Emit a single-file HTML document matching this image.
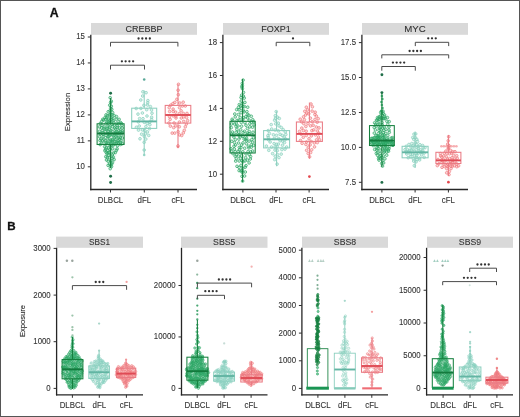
<!DOCTYPE html>
<html><head><meta charset="utf-8"><style>
html,body{margin:0;padding:0;background:#fff;}
body{width:520px;height:417px;overflow:hidden;}
svg{display:block;font-family:"Liberation Sans",sans-serif;will-change:transform;}
</style></head><body>
<svg width="520" height="417" viewBox="0 0 520 417">
<rect x="0" y="0" width="520" height="417" fill="#fff"/>
<text x="54.20" y="16.70" font-size="12.3" text-anchor="middle" fill="#111" font-weight="bold" stroke="#111" stroke-width="0.3" >A</text>
<text x="11.50" y="229.80" font-size="11.6" text-anchor="middle" fill="#111" font-weight="bold" stroke="#111" stroke-width="0.3" >B</text>
<rect x="91" y="23" width="106" height="11.799999999999997" fill="#d9d9d9"/>
<text x="144.00" y="31.60" font-size="9.6" text-anchor="middle" fill="#333333" font-weight="normal" stroke="#333333" stroke-width="0.1" textLength="37" lengthAdjust="spacingAndGlyphs">CREBBP</text>
<line x1="90.80" y1="34.80" x2="90.80" y2="190.15" stroke="#262626" stroke-width="1.3"/>
<line x1="90.15" y1="189.50" x2="197.00" y2="189.50" stroke="#262626" stroke-width="1.3"/>
<line x1="87.80" y1="37.00" x2="90.80" y2="37.00" stroke="#2f2f2f" stroke-width="1"/>
<text transform="translate(84.90,39.45) scale(0.89,1)" font-size="8.8" text-anchor="end" fill="#333333" font-weight="normal" stroke="#333333" stroke-width="0.1" >15</text>
<line x1="87.80" y1="62.95" x2="90.80" y2="62.95" stroke="#2f2f2f" stroke-width="1"/>
<text transform="translate(84.90,65.40) scale(0.89,1)" font-size="8.8" text-anchor="end" fill="#333333" font-weight="normal" stroke="#333333" stroke-width="0.1" >14</text>
<line x1="87.80" y1="88.90" x2="90.80" y2="88.90" stroke="#2f2f2f" stroke-width="1"/>
<text transform="translate(84.90,91.35) scale(0.89,1)" font-size="8.8" text-anchor="end" fill="#333333" font-weight="normal" stroke="#333333" stroke-width="0.1" >13</text>
<line x1="87.80" y1="114.90" x2="90.80" y2="114.90" stroke="#2f2f2f" stroke-width="1"/>
<text transform="translate(84.90,117.35) scale(0.89,1)" font-size="8.8" text-anchor="end" fill="#333333" font-weight="normal" stroke="#333333" stroke-width="0.1" >12</text>
<line x1="87.80" y1="140.85" x2="90.80" y2="140.85" stroke="#2f2f2f" stroke-width="1"/>
<text transform="translate(84.90,143.30) scale(0.89,1)" font-size="8.8" text-anchor="end" fill="#333333" font-weight="normal" stroke="#333333" stroke-width="0.1" >11</text>
<line x1="87.80" y1="166.80" x2="90.80" y2="166.80" stroke="#2f2f2f" stroke-width="1"/>
<text transform="translate(84.90,169.25) scale(0.89,1)" font-size="8.8" text-anchor="end" fill="#333333" font-weight="normal" stroke="#333333" stroke-width="0.1" >10</text>
<line x1="110.50" y1="189.50" x2="110.50" y2="192.50" stroke="#2f2f2f" stroke-width="1"/>
<text transform="translate(110.50,202.80) scale(0.92,1)" font-size="8.6" text-anchor="middle" fill="#333333" font-weight="normal" stroke="#333333" stroke-width="0.1" >DLBCL</text>
<line x1="144.30" y1="189.50" x2="144.30" y2="192.50" stroke="#2f2f2f" stroke-width="1"/>
<text transform="translate(144.30,202.80) scale(0.92,1)" font-size="8.6" text-anchor="middle" fill="#333333" font-weight="normal" stroke="#333333" stroke-width="0.1" >dFL</text>
<line x1="178.00" y1="189.50" x2="178.00" y2="192.50" stroke="#2f2f2f" stroke-width="1"/>
<text transform="translate(178.00,202.80) scale(0.92,1)" font-size="8.6" text-anchor="middle" fill="#333333" font-weight="normal" stroke="#333333" stroke-width="0.1" >cFL</text>
<text transform="translate(69.5,112) rotate(-90)" font-size="8.1" text-anchor="middle" fill="#333333" stroke="#333333" stroke-width="0.15" textLength="38.5" lengthAdjust="spacingAndGlyphs">Expression</text>
<polygon points="109.60,97.00 108.40,110.00 106.90,113.00 104.40,116.00 100.90,119.50 98.40,123.00 98.40,144.00 102.40,146.00 103.90,152.00 105.40,158.00 106.40,163.00 109.40,169.00 111.80,169.00 114.80,163.00 115.80,158.00 117.30,152.00 118.80,146.00 122.80,144.00 122.80,123.00 120.30,119.50 116.80,116.00 114.30,113.00 112.80,110.00 111.60,97.00" fill="#6cc89a" fill-opacity="0.1"/>
<g fill="#2aa664" fill-opacity="0.22" stroke="#2aa664" stroke-opacity="0.9" stroke-width="0.75"><circle cx="121.1" cy="135.1" r="1.35"/><circle cx="99.6" cy="136.7" r="1.35"/><circle cx="112.3" cy="162.5" r="1.35"/><circle cx="110.7" cy="108.4" r="1.35"/><circle cx="116.4" cy="119.4" r="1.35"/><circle cx="101.7" cy="121.5" r="1.35"/><circle cx="117.1" cy="148.9" r="1.35"/><circle cx="104.9" cy="150.7" r="1.35"/><circle cx="106.3" cy="129.3" r="1.35"/><circle cx="109.0" cy="141.1" r="1.35"/><circle cx="101.9" cy="143.0" r="1.35"/><circle cx="112.4" cy="126.7" r="1.35"/><circle cx="110.5" cy="114.3" r="1.35"/><circle cx="108.3" cy="121.3" r="1.35"/><circle cx="115.1" cy="139.9" r="1.35"/><circle cx="110.6" cy="102.6" r="1.35"/><circle cx="110.2" cy="168.7" r="1.35"/><circle cx="113.4" cy="153.0" r="1.35"/><circle cx="113.2" cy="135.9" r="1.35"/><circle cx="102.0" cy="125.2" r="1.35"/><circle cx="106.5" cy="160.0" r="1.35"/><circle cx="113.6" cy="144.9" r="1.35"/><circle cx="99.4" cy="126.9" r="1.35"/><circle cx="119.4" cy="127.8" r="1.35"/><circle cx="105.0" cy="117.5" r="1.35"/><circle cx="121.0" cy="140.8" r="1.35"/><circle cx="112.4" cy="131.4" r="1.35"/><circle cx="108.1" cy="165.4" r="1.35"/><circle cx="100.0" cy="140.5" r="1.35"/><circle cx="113.2" cy="120.9" r="1.35"/><circle cx="106.0" cy="135.3" r="1.35"/><circle cx="112.1" cy="158.5" r="1.35"/><circle cx="118.4" cy="142.7" r="1.35"/><circle cx="110.1" cy="149.5" r="1.35"/><circle cx="105.4" cy="140.8" r="1.35"/><circle cx="107.5" cy="115.7" r="1.35"/><circle cx="117.6" cy="133.5" r="1.35"/><circle cx="107.1" cy="153.7" r="1.35"/><circle cx="120.4" cy="131.4" r="1.35"/><circle cx="110.2" cy="97.7" r="1.35"/><circle cx="109.6" cy="129.4" r="1.35"/><circle cx="117.2" cy="125.7" r="1.35"/><circle cx="99.5" cy="131.3" r="1.35"/><circle cx="106.4" cy="143.8" r="1.35"/><circle cx="109.1" cy="136.1" r="1.35"/><circle cx="114.1" cy="159.6" r="1.35"/><circle cx="113.1" cy="157.0" r="1.35"/><circle cx="114.1" cy="115.5" r="1.35"/><circle cx="110.2" cy="144.2" r="1.35"/><circle cx="108.6" cy="147.7" r="1.35"/><circle cx="103.1" cy="134.5" r="1.35"/><circle cx="120.1" cy="137.3" r="1.35"/><circle cx="109.8" cy="152.6" r="1.35"/><circle cx="110.5" cy="122.7" r="1.35"/><circle cx="111.0" cy="117.5" r="1.35"/><circle cx="118.8" cy="123.4" r="1.35"/><circle cx="105.8" cy="123.8" r="1.35"/><circle cx="105.4" cy="131.7" r="1.35"/><circle cx="117.0" cy="123.1" r="1.35"/><circle cx="122.1" cy="128.0" r="1.35"/><circle cx="108.0" cy="126.1" r="1.35"/><circle cx="116.6" cy="143.6" r="1.35"/><circle cx="101.5" cy="127.9" r="1.35"/><circle cx="114.5" cy="125.0" r="1.35"/><circle cx="119.1" cy="119.3" r="1.35"/><circle cx="105.8" cy="156.7" r="1.35"/><circle cx="104.7" cy="146.6" r="1.35"/><circle cx="112.6" cy="112.6" r="1.35"/><circle cx="100.2" cy="134.0" r="1.35"/><circle cx="103.9" cy="139.1" r="1.35"/><circle cx="117.6" cy="145.7" r="1.35"/><circle cx="115.5" cy="129.1" r="1.35"/><circle cx="115.0" cy="133.4" r="1.35"/><circle cx="122.3" cy="138.0" r="1.35"/><circle cx="116.3" cy="150.5" r="1.35"/><circle cx="102.4" cy="130.7" r="1.35"/><circle cx="110.7" cy="165.4" r="1.35"/><circle cx="110.9" cy="139.5" r="1.35"/><circle cx="122.0" cy="132.8" r="1.35"/><circle cx="105.6" cy="149.3" r="1.35"/><circle cx="107.8" cy="150.5" r="1.35"/><circle cx="108.2" cy="161.2" r="1.35"/><circle cx="120.4" cy="122.5" r="1.35"/><circle cx="104.1" cy="128.8" r="1.35"/><circle cx="109.8" cy="133.1" r="1.35"/><circle cx="108.3" cy="123.3" r="1.35"/><circle cx="108.4" cy="152.6" r="1.35"/><circle cx="112.3" cy="155.0" r="1.35"/><circle cx="109.2" cy="157.7" r="1.35"/><circle cx="112.7" cy="148.8" r="1.35"/><circle cx="115.3" cy="152.5" r="1.35"/><circle cx="116.1" cy="136.9" r="1.35"/><circle cx="122.3" cy="143.6" r="1.35"/><circle cx="116.8" cy="131.7" r="1.35"/><circle cx="121.8" cy="125.3" r="1.35"/><circle cx="119.6" cy="133.2" r="1.35"/><circle cx="111.9" cy="145.7" r="1.35"/><circle cx="110.1" cy="110.9" r="1.35"/><circle cx="102.8" cy="119.3" r="1.35"/><circle cx="114.2" cy="137.9" r="1.35"/><circle cx="106.3" cy="152.4" r="1.35"/><circle cx="112.0" cy="114.9" r="1.35"/><circle cx="104.2" cy="127.1" r="1.35"/><circle cx="112.5" cy="134.6" r="1.35"/><circle cx="118.2" cy="140.5" r="1.35"/><circle cx="120.6" cy="142.6" r="1.35"/><circle cx="109.7" cy="105.2" r="1.35"/><circle cx="109.7" cy="127.0" r="1.35"/><circle cx="107.2" cy="128.4" r="1.35"/><circle cx="110.1" cy="146.1" r="1.35"/><circle cx="111.1" cy="140.8" r="1.35"/><circle cx="108.0" cy="136.9" r="1.35"/><circle cx="103.2" cy="136.8" r="1.35"/><circle cx="100.2" cy="144.6" r="1.35"/><circle cx="100.3" cy="123.5" r="1.35"/><circle cx="118.2" cy="137.9" r="1.35"/><circle cx="110.9" cy="130.5" r="1.35"/><circle cx="111.3" cy="106.2" r="1.35"/><circle cx="111.5" cy="119.1" r="1.35"/><circle cx="110.6" cy="160.9" r="1.35"/><circle cx="105.7" cy="119.3" r="1.35"/><circle cx="111.3" cy="101.2" r="1.35"/><circle cx="107.4" cy="138.7" r="1.35"/><circle cx="111.8" cy="124.3" r="1.35"/><circle cx="116.5" cy="116.6" r="1.35"/><circle cx="119.5" cy="139.2" r="1.35"/><circle cx="108.2" cy="111.7" r="1.35"/><circle cx="112.6" cy="139.9" r="1.35"/><circle cx="109.3" cy="115.0" r="1.35"/><circle cx="114.6" cy="128.1" r="1.35"/><circle cx="105.9" cy="142.4" r="1.35"/><circle cx="115.0" cy="144.0" r="1.35"/><circle cx="108.5" cy="119.1" r="1.35"/><circle cx="114.8" cy="141.5" r="1.35"/><circle cx="118.9" cy="130.6" r="1.35"/><circle cx="109.9" cy="120.7" r="1.35"/><circle cx="108.6" cy="155.1" r="1.35"/><circle cx="111.5" cy="143.1" r="1.35"/><circle cx="111.8" cy="109.4" r="1.35"/><circle cx="115.6" cy="132.1" r="1.35"/><circle cx="106.9" cy="122.2" r="1.35"/><circle cx="106.0" cy="114.9" r="1.35"/><circle cx="113.6" cy="122.9" r="1.35"/><circle cx="107.3" cy="157.6" r="1.35"/><circle cx="102.7" cy="132.8" r="1.35"/><circle cx="122.1" cy="131.0" r="1.35"/><circle cx="117.2" cy="127.4" r="1.35"/><circle cx="121.5" cy="123.5" r="1.35"/><circle cx="103.6" cy="120.1" r="1.35"/><circle cx="108.2" cy="131.5" r="1.35"/><circle cx="109.9" cy="134.9" r="1.35"/><circle cx="102.4" cy="140.9" r="1.35"/><circle cx="111.5" cy="166.6" r="1.35"/><circle cx="111.7" cy="163.8" r="1.35"/><circle cx="112.5" cy="142.0" r="1.35"/><circle cx="106.8" cy="117.9" r="1.35"/><circle cx="109.7" cy="164.1" r="1.35"/><circle cx="116.9" cy="135.1" r="1.35"/><circle cx="120.6" cy="144.5" r="1.35"/><circle cx="108.1" cy="143.1" r="1.35"/><circle cx="113.0" cy="118.8" r="1.35"/><circle cx="108.0" cy="133.3" r="1.35"/><circle cx="101.0" cy="139.0" r="1.35"/><circle cx="117.3" cy="142.0" r="1.35"/><circle cx="106.4" cy="147.7" r="1.35"/></g>
<g fill="#1f6e48" fill-opacity="1"><circle cx="110.6" cy="93.3" r="1.45"/><circle cx="110.6" cy="176.2" r="1.45"/><circle cx="110.6" cy="182.5" r="1.45"/></g>
<g stroke="#16803f" stroke-width="1.05" fill="none"><line x1="110.6" y1="98" x2="110.6" y2="123.8"/><line x1="110.6" y1="144.5" x2="110.6" y2="168"/><rect x="97.1" y="123.8" width="27.0" height="20.700000000000003"/><line x1="97.1" y1="133.5" x2="124.1" y2="133.5" stroke="#137a3d" stroke-width="1.9"/></g>
<g fill="#86cfbd" fill-opacity="0.3" stroke="#86cfbd" stroke-opacity="0.9" stroke-width="0.75"><circle cx="140.9" cy="108.4" r="1.35"/><circle cx="138.5" cy="130.1" r="1.35"/><circle cx="145.8" cy="139.1" r="1.35"/><circle cx="149.9" cy="124.7" r="1.35"/><circle cx="139.6" cy="118.6" r="1.35"/><circle cx="152.0" cy="113.2" r="1.35"/><circle cx="146.1" cy="92.7" r="1.35"/><circle cx="144.3" cy="122.3" r="1.35"/><circle cx="140.8" cy="100.0" r="1.35"/><circle cx="148.7" cy="135.4" r="1.35"/><circle cx="147.0" cy="116.0" r="1.35"/><circle cx="144.8" cy="130.6" r="1.35"/><circle cx="139.2" cy="126.0" r="1.35"/><circle cx="147.9" cy="100.6" r="1.35"/><circle cx="141.6" cy="134.2" r="1.35"/><circle cx="146.7" cy="109.7" r="1.35"/><circle cx="140.0" cy="138.8" r="1.35"/><circle cx="143.9" cy="105.3" r="1.35"/><circle cx="136.2" cy="108.5" r="1.35"/><circle cx="144.2" cy="142.3" r="1.35"/><circle cx="143.0" cy="118.7" r="1.35"/><circle cx="150.4" cy="106.6" r="1.35"/><circle cx="142.7" cy="96.0" r="1.35"/><circle cx="149.5" cy="128.6" r="1.35"/><circle cx="151.5" cy="110.0" r="1.35"/><circle cx="142.4" cy="113.0" r="1.35"/><circle cx="145.9" cy="126.6" r="1.35"/><circle cx="151.6" cy="117.2" r="1.35"/><circle cx="147.4" cy="131.9" r="1.35"/><circle cx="138.4" cy="121.9" r="1.35"/><circle cx="147.5" cy="105.0" r="1.35"/><circle cx="147.2" cy="123.4" r="1.35"/><circle cx="142.9" cy="91.8" r="1.35"/><circle cx="151.6" cy="119.5" r="1.35"/><circle cx="144.2" cy="150.0" r="1.35"/><circle cx="136.4" cy="127.3" r="1.35"/><circle cx="147.7" cy="102.8" r="1.35"/><circle cx="138.0" cy="114.1" r="1.35"/><circle cx="142.4" cy="129.9" r="1.35"/><circle cx="149.7" cy="122.1" r="1.35"/><circle cx="145.3" cy="133.8" r="1.35"/><circle cx="144.3" cy="136.3" r="1.35"/></g>
<g fill="#86cfbd" fill-opacity="0.8"><circle cx="144.2" cy="155.0" r="1.3"/></g>
<g fill="#5aa898" fill-opacity="1"><circle cx="144.2" cy="79.5" r="1.3"/></g>
<g stroke="#8ccfbf" stroke-width="1.05" fill="none"><line x1="144.2" y1="90.5" x2="144.2" y2="108.2"/><line x1="144.2" y1="128.4" x2="144.2" y2="155.4"/><rect x="131.7" y="108.2" width="25.0" height="20.200000000000003"/><line x1="131.7" y1="121.4" x2="156.7" y2="121.4" stroke="#62b5a3" stroke-width="1.9"/></g>
<g fill="#f07a7e" fill-opacity="0.3" stroke="#f07a7e" stroke-opacity="0.9" stroke-width="0.75"><circle cx="176.9" cy="99.3" r="1.35"/><circle cx="179.3" cy="126.7" r="1.35"/><circle cx="178.5" cy="84.3" r="1.35"/><circle cx="169.7" cy="111.5" r="1.35"/><circle cx="183.3" cy="113.4" r="1.35"/><circle cx="176.0" cy="118.0" r="1.35"/><circle cx="179.5" cy="134.9" r="1.35"/><circle cx="185.3" cy="106.0" r="1.35"/><circle cx="168.9" cy="123.0" r="1.35"/><circle cx="175.6" cy="112.1" r="1.35"/><circle cx="186.6" cy="117.5" r="1.35"/><circle cx="179.5" cy="107.7" r="1.35"/><circle cx="174.7" cy="133.1" r="1.35"/><circle cx="178.0" cy="145.9" r="1.35"/><circle cx="178.3" cy="94.7" r="1.35"/><circle cx="174.1" cy="123.0" r="1.35"/><circle cx="181.3" cy="118.0" r="1.35"/><circle cx="178.1" cy="90.2" r="1.35"/><circle cx="184.3" cy="130.3" r="1.35"/><circle cx="179.3" cy="113.7" r="1.35"/><circle cx="179.8" cy="103.0" r="1.35"/><circle cx="181.1" cy="110.8" r="1.35"/><circle cx="170.8" cy="105.1" r="1.35"/><circle cx="173.7" cy="127.6" r="1.35"/><circle cx="183.3" cy="132.9" r="1.35"/><circle cx="183.7" cy="121.4" r="1.35"/><circle cx="187.0" cy="113.4" r="1.35"/><circle cx="183.2" cy="102.2" r="1.35"/><circle cx="173.1" cy="109.1" r="1.35"/><circle cx="174.8" cy="102.4" r="1.35"/><circle cx="185.3" cy="126.8" r="1.35"/><circle cx="178.1" cy="131.7" r="1.35"/><circle cx="182.5" cy="106.0" r="1.35"/><circle cx="169.5" cy="116.7" r="1.35"/><circle cx="173.2" cy="111.5" r="1.35"/><circle cx="181.7" cy="135.5" r="1.35"/><circle cx="175.8" cy="125.9" r="1.35"/><circle cx="175.9" cy="116.1" r="1.35"/><circle cx="179.4" cy="122.1" r="1.35"/><circle cx="170.3" cy="126.1" r="1.35"/><circle cx="172.2" cy="133.1" r="1.35"/><circle cx="173.2" cy="115.9" r="1.35"/><circle cx="170.1" cy="119.4" r="1.35"/><circle cx="186.4" cy="124.0" r="1.35"/><circle cx="172.9" cy="103.6" r="1.35"/><circle cx="169.2" cy="107.7" r="1.35"/><circle cx="183.8" cy="116.9" r="1.35"/><circle cx="187.6" cy="120.7" r="1.35"/></g>
<g fill="#f07a7e" fill-opacity="0.8"><circle cx="178.0" cy="147.0" r="1.3"/></g>
<g stroke="#ea7b84" stroke-width="1.05" fill="none"><line x1="178.0" y1="84.2" x2="178.0" y2="105.4"/><line x1="178.0" y1="123.1" x2="178.0" y2="147.3"/><rect x="165.2" y="105.4" width="25.6" height="17.69999999999999"/><line x1="165.2" y1="115" x2="190.8" y2="115" stroke="#df4a55" stroke-width="1.9"/></g>
<path d="M110.5,46.5 V42.3 H177.9 V46.5" stroke="#4a4a4a" stroke-width="1" fill="none"/>
<g fill="#333"><circle cx="138.57" cy="38.50" r="1.15"/><circle cx="142.32" cy="38.50" r="1.15"/><circle cx="146.07" cy="38.50" r="1.15"/><circle cx="149.82" cy="38.50" r="1.15"/></g>
<path d="M110.5,69.5 V65.2 H144.5 V69.5" stroke="#4a4a4a" stroke-width="1" fill="none"/>
<g fill="#333"><circle cx="121.88" cy="61.30" r="1.15"/><circle cx="125.62" cy="61.30" r="1.15"/><circle cx="129.38" cy="61.30" r="1.15"/><circle cx="133.12" cy="61.30" r="1.15"/></g>
<rect x="223" y="23" width="106" height="11.799999999999997" fill="#d9d9d9"/>
<text x="276.00" y="31.60" font-size="9.6" text-anchor="middle" fill="#333333" font-weight="normal" stroke="#333333" stroke-width="0.1" textLength="29.5" lengthAdjust="spacingAndGlyphs">FOXP1</text>
<line x1="222.90" y1="34.80" x2="222.90" y2="190.15" stroke="#262626" stroke-width="1.3"/>
<line x1="222.25" y1="189.50" x2="329.00" y2="189.50" stroke="#262626" stroke-width="1.3"/>
<line x1="219.90" y1="42.60" x2="222.90" y2="42.60" stroke="#2f2f2f" stroke-width="1"/>
<text transform="translate(217.00,45.05) scale(0.89,1)" font-size="8.8" text-anchor="end" fill="#333333" font-weight="normal" stroke="#333333" stroke-width="0.1" >18</text>
<line x1="219.90" y1="75.50" x2="222.90" y2="75.50" stroke="#2f2f2f" stroke-width="1"/>
<text transform="translate(217.00,77.95) scale(0.89,1)" font-size="8.8" text-anchor="end" fill="#333333" font-weight="normal" stroke="#333333" stroke-width="0.1" >16</text>
<line x1="219.90" y1="108.40" x2="222.90" y2="108.40" stroke="#2f2f2f" stroke-width="1"/>
<text transform="translate(217.00,110.85) scale(0.89,1)" font-size="8.8" text-anchor="end" fill="#333333" font-weight="normal" stroke="#333333" stroke-width="0.1" >14</text>
<line x1="219.90" y1="141.30" x2="222.90" y2="141.30" stroke="#2f2f2f" stroke-width="1"/>
<text transform="translate(217.00,143.75) scale(0.89,1)" font-size="8.8" text-anchor="end" fill="#333333" font-weight="normal" stroke="#333333" stroke-width="0.1" >12</text>
<line x1="219.90" y1="174.20" x2="222.90" y2="174.20" stroke="#2f2f2f" stroke-width="1"/>
<text transform="translate(217.00,176.65) scale(0.89,1)" font-size="8.8" text-anchor="end" fill="#333333" font-weight="normal" stroke="#333333" stroke-width="0.1" >10</text>
<line x1="242.90" y1="189.50" x2="242.90" y2="192.50" stroke="#2f2f2f" stroke-width="1"/>
<text transform="translate(242.90,202.80) scale(0.92,1)" font-size="8.6" text-anchor="middle" fill="#333333" font-weight="normal" stroke="#333333" stroke-width="0.1" >DLBCL</text>
<line x1="276.00" y1="189.50" x2="276.00" y2="192.50" stroke="#2f2f2f" stroke-width="1"/>
<text transform="translate(276.00,202.80) scale(0.92,1)" font-size="8.6" text-anchor="middle" fill="#333333" font-weight="normal" stroke="#333333" stroke-width="0.1" >dFL</text>
<line x1="309.10" y1="189.50" x2="309.10" y2="192.50" stroke="#2f2f2f" stroke-width="1"/>
<text transform="translate(309.10,202.80) scale(0.92,1)" font-size="8.6" text-anchor="middle" fill="#333333" font-weight="normal" stroke="#333333" stroke-width="0.1" >cFL</text>
<g fill="#2aa664" fill-opacity="0.2" stroke="#2aa664" stroke-opacity="0.9" stroke-width="0.75"><circle cx="242.7" cy="168.2" r="1.35"/><circle cx="249.4" cy="131.6" r="1.35"/><circle cx="234.0" cy="146.2" r="1.35"/><circle cx="236.1" cy="126.6" r="1.35"/><circle cx="248.9" cy="147.9" r="1.35"/><circle cx="238.5" cy="156.1" r="1.35"/><circle cx="241.3" cy="108.2" r="1.35"/><circle cx="242.7" cy="119.6" r="1.35"/><circle cx="233.5" cy="134.7" r="1.35"/><circle cx="242.8" cy="151.8" r="1.35"/><circle cx="242.3" cy="83.4" r="1.35"/><circle cx="249.1" cy="162.9" r="1.35"/><circle cx="252.8" cy="119.8" r="1.35"/><circle cx="232.9" cy="153.6" r="1.35"/><circle cx="246.0" cy="125.2" r="1.35"/><circle cx="242.6" cy="181.1" r="1.35"/><circle cx="243.4" cy="96.1" r="1.35"/><circle cx="246.6" cy="138.3" r="1.35"/><circle cx="246.9" cy="111.6" r="1.35"/><circle cx="242.8" cy="161.8" r="1.35"/><circle cx="237.1" cy="120.4" r="1.35"/><circle cx="238.5" cy="114.5" r="1.35"/><circle cx="252.6" cy="151.0" r="1.35"/><circle cx="240.7" cy="129.8" r="1.35"/><circle cx="245.6" cy="157.7" r="1.35"/><circle cx="251.7" cy="134.7" r="1.35"/><circle cx="237.0" cy="166.3" r="1.35"/><circle cx="244.9" cy="122.6" r="1.35"/><circle cx="244.5" cy="106.6" r="1.35"/><circle cx="243.0" cy="136.3" r="1.35"/><circle cx="238.2" cy="151.3" r="1.35"/><circle cx="241.2" cy="101.0" r="1.35"/><circle cx="232.1" cy="119.3" r="1.35"/><circle cx="233.9" cy="137.1" r="1.35"/><circle cx="252.5" cy="127.2" r="1.35"/><circle cx="253.7" cy="145.3" r="1.35"/><circle cx="240.2" cy="117.4" r="1.35"/><circle cx="249.2" cy="120.2" r="1.35"/><circle cx="241.6" cy="145.0" r="1.35"/><circle cx="244.7" cy="148.2" r="1.35"/><circle cx="238.9" cy="139.1" r="1.35"/><circle cx="238.6" cy="143.0" r="1.35"/><circle cx="249.1" cy="141.1" r="1.35"/><circle cx="240.2" cy="137.0" r="1.35"/><circle cx="246.0" cy="165.6" r="1.35"/><circle cx="239.3" cy="104.6" r="1.35"/><circle cx="243.5" cy="92.4" r="1.35"/><circle cx="250.3" cy="159.0" r="1.35"/><circle cx="239.0" cy="109.8" r="1.35"/><circle cx="239.1" cy="170.6" r="1.35"/><circle cx="231.0" cy="148.8" r="1.35"/><circle cx="239.3" cy="147.4" r="1.35"/><circle cx="231.8" cy="141.3" r="1.35"/><circle cx="235.1" cy="156.1" r="1.35"/><circle cx="243.0" cy="142.9" r="1.35"/><circle cx="246.9" cy="134.9" r="1.35"/><circle cx="244.9" cy="102.4" r="1.35"/><circle cx="243.7" cy="117.8" r="1.35"/><circle cx="236.3" cy="158.7" r="1.35"/><circle cx="249.8" cy="123.8" r="1.35"/><circle cx="238.7" cy="132.1" r="1.35"/><circle cx="235.2" cy="151.7" r="1.35"/><circle cx="239.2" cy="161.0" r="1.35"/><circle cx="244.0" cy="111.9" r="1.35"/><circle cx="246.0" cy="153.9" r="1.35"/><circle cx="242.0" cy="176.3" r="1.35"/><circle cx="245.3" cy="172.0" r="1.35"/><circle cx="250.6" cy="156.5" r="1.35"/><circle cx="241.6" cy="126.2" r="1.35"/><circle cx="249.8" cy="126.9" r="1.35"/><circle cx="247.6" cy="117.9" r="1.35"/><circle cx="241.0" cy="165.3" r="1.35"/><circle cx="232.4" cy="132.0" r="1.35"/><circle cx="241.9" cy="86.9" r="1.35"/><circle cx="241.0" cy="97.5" r="1.35"/><circle cx="235.4" cy="139.6" r="1.35"/><circle cx="234.8" cy="114.0" r="1.35"/><circle cx="244.1" cy="139.1" r="1.35"/><circle cx="253.0" cy="132.2" r="1.35"/><circle cx="234.4" cy="149.1" r="1.35"/><circle cx="240.7" cy="153.0" r="1.35"/><circle cx="240.1" cy="134.5" r="1.35"/><circle cx="245.0" cy="160.9" r="1.35"/><circle cx="248.8" cy="115.2" r="1.35"/><circle cx="244.5" cy="131.3" r="1.35"/><circle cx="251.3" cy="116.3" r="1.35"/><circle cx="238.5" cy="107.3" r="1.35"/><circle cx="241.3" cy="122.4" r="1.35"/><circle cx="247.4" cy="128.5" r="1.35"/><circle cx="253.5" cy="121.7" r="1.35"/><circle cx="246.4" cy="140.8" r="1.35"/><circle cx="245.8" cy="116.7" r="1.35"/><circle cx="234.5" cy="142.5" r="1.35"/><circle cx="248.1" cy="151.5" r="1.35"/><circle cx="242.4" cy="88.7" r="1.35"/><circle cx="248.4" cy="146.3" r="1.35"/><circle cx="239.1" cy="167.4" r="1.35"/><circle cx="244.2" cy="98.1" r="1.35"/><circle cx="242.4" cy="172.5" r="1.35"/><circle cx="235.7" cy="161.1" r="1.35"/><circle cx="236.1" cy="132.3" r="1.35"/><circle cx="251.8" cy="139.6" r="1.35"/><circle cx="245.2" cy="167.2" r="1.35"/><circle cx="240.5" cy="158.3" r="1.35"/><circle cx="231.7" cy="134.2" r="1.35"/><circle cx="247.7" cy="107.2" r="1.35"/><circle cx="243.1" cy="80.1" r="1.35"/><circle cx="236.2" cy="123.1" r="1.35"/><circle cx="241.1" cy="112.7" r="1.35"/><circle cx="234.5" cy="124.0" r="1.35"/><circle cx="238.5" cy="134.9" r="1.35"/><circle cx="241.0" cy="170.9" r="1.35"/><circle cx="247.4" cy="160.1" r="1.35"/><circle cx="247.3" cy="133.1" r="1.35"/><circle cx="231.5" cy="124.0" r="1.35"/><circle cx="236.7" cy="109.6" r="1.35"/><circle cx="245.7" cy="139.3" r="1.35"/><circle cx="238.0" cy="126.0" r="1.35"/><circle cx="235.6" cy="145.0" r="1.35"/><circle cx="242.5" cy="103.3" r="1.35"/><circle cx="231.3" cy="127.6" r="1.35"/><circle cx="249.3" cy="154.8" r="1.35"/><circle cx="232.7" cy="120.7" r="1.35"/><circle cx="239.5" cy="149.9" r="1.35"/><circle cx="241.6" cy="156.0" r="1.35"/><circle cx="242.3" cy="170.8" r="1.35"/><circle cx="231.7" cy="151.2" r="1.35"/><circle cx="243.1" cy="132.6" r="1.35"/><circle cx="247.4" cy="114.4" r="1.35"/><circle cx="235.2" cy="116.9" r="1.35"/><circle cx="240.7" cy="105.7" r="1.35"/><circle cx="250.6" cy="151.9" r="1.35"/><circle cx="252.6" cy="142.1" r="1.35"/><circle cx="236.5" cy="154.7" r="1.35"/><circle cx="241.0" cy="147.6" r="1.35"/><circle cx="242.2" cy="160.4" r="1.35"/><circle cx="251.4" cy="147.1" r="1.35"/><circle cx="251.7" cy="122.4" r="1.35"/><circle cx="241.6" cy="95.2" r="1.35"/><circle cx="243.2" cy="110.4" r="1.35"/><circle cx="244.6" cy="176.0" r="1.35"/><circle cx="254.1" cy="124.9" r="1.35"/><circle cx="236.9" cy="129.3" r="1.35"/><circle cx="242.3" cy="85.6" r="1.35"/><circle cx="249.0" cy="133.6" r="1.35"/><circle cx="243.0" cy="106.6" r="1.35"/><circle cx="251.3" cy="144.8" r="1.35"/><circle cx="246.4" cy="143.8" r="1.35"/><circle cx="253.6" cy="137.7" r="1.35"/><circle cx="239.0" cy="120.2" r="1.35"/></g>
<g stroke="#16803f" stroke-width="1.05" fill="none"><line x1="242.6" y1="79" x2="242.6" y2="121.3"/><line x1="242.6" y1="153" x2="242.6" y2="182"/><rect x="230.0" y="121.3" width="25.2" height="31.700000000000003"/><line x1="230.0" y1="135.3" x2="255.2" y2="135.3" stroke="#137a3d" stroke-width="1.9"/></g>
<g fill="#86cfbd" fill-opacity="0.3" stroke="#86cfbd" stroke-opacity="0.9" stroke-width="0.75"><circle cx="281.9" cy="149.6" r="1.35"/><circle cx="279.3" cy="118.5" r="1.35"/><circle cx="276.5" cy="135.3" r="1.35"/><circle cx="266.4" cy="146.1" r="1.35"/><circle cx="279.0" cy="125.9" r="1.35"/><circle cx="285.8" cy="134.5" r="1.35"/><circle cx="274.1" cy="143.6" r="1.35"/><circle cx="277.1" cy="164.1" r="1.35"/><circle cx="275.2" cy="156.2" r="1.35"/><circle cx="267.9" cy="135.7" r="1.35"/><circle cx="276.2" cy="111.6" r="1.35"/><circle cx="271.7" cy="129.0" r="1.35"/><circle cx="284.5" cy="142.5" r="1.35"/><circle cx="283.2" cy="129.7" r="1.35"/><circle cx="277.1" cy="146.9" r="1.35"/><circle cx="280.1" cy="140.8" r="1.35"/><circle cx="274.6" cy="120.2" r="1.35"/><circle cx="271.5" cy="147.0" r="1.35"/><circle cx="282.3" cy="135.4" r="1.35"/><circle cx="274.3" cy="138.4" r="1.35"/><circle cx="275.3" cy="115.7" r="1.35"/><circle cx="275.7" cy="123.8" r="1.35"/><circle cx="281.2" cy="154.1" r="1.35"/><circle cx="282.5" cy="145.2" r="1.35"/><circle cx="274.7" cy="159.6" r="1.35"/><circle cx="275.0" cy="150.1" r="1.35"/><circle cx="281.3" cy="127.5" r="1.35"/><circle cx="278.3" cy="130.9" r="1.35"/><circle cx="286.6" cy="147.0" r="1.35"/><circle cx="270.1" cy="142.0" r="1.35"/><circle cx="268.2" cy="130.6" r="1.35"/><circle cx="285.0" cy="149.1" r="1.35"/><circle cx="272.6" cy="153.6" r="1.35"/><circle cx="278.3" cy="144.1" r="1.35"/><circle cx="268.8" cy="150.3" r="1.35"/><circle cx="279.0" cy="157.6" r="1.35"/><circle cx="277.4" cy="117.2" r="1.35"/><circle cx="273.4" cy="134.8" r="1.35"/><circle cx="268.5" cy="139.7" r="1.35"/><circle cx="284.1" cy="137.0" r="1.35"/><circle cx="278.3" cy="123.1" r="1.35"/><circle cx="269.4" cy="133.5" r="1.35"/><circle cx="275.1" cy="130.0" r="1.35"/><circle cx="285.3" cy="131.9" r="1.35"/><circle cx="268.4" cy="137.4" r="1.35"/><circle cx="275.1" cy="146.9" r="1.35"/><circle cx="280.1" cy="134.3" r="1.35"/><circle cx="282.8" cy="141.2" r="1.35"/><circle cx="277.3" cy="150.6" r="1.35"/><circle cx="271.2" cy="124.6" r="1.35"/><circle cx="278.6" cy="138.6" r="1.35"/><circle cx="276.4" cy="144.3" r="1.35"/><circle cx="285.7" cy="139.1" r="1.35"/><circle cx="275.5" cy="118.2" r="1.35"/><circle cx="277.5" cy="154.6" r="1.35"/></g>
<g stroke="#8ccfbf" stroke-width="1.05" fill="none"><line x1="276.6" y1="111.2" x2="276.6" y2="130.6"/><line x1="276.6" y1="147.9" x2="276.6" y2="166.3"/><rect x="263.6" y="130.6" width="26" height="17.30000000000001"/><line x1="263.6" y1="139.3" x2="289.6" y2="139.3" stroke="#62b5a3" stroke-width="1.9"/></g>
<g fill="#f07a7e" fill-opacity="0.3" stroke="#f07a7e" stroke-opacity="0.9" stroke-width="0.75"><circle cx="306.2" cy="131.2" r="1.35"/><circle cx="311.0" cy="104.0" r="1.35"/><circle cx="314.3" cy="143.0" r="1.35"/><circle cx="308.2" cy="153.5" r="1.35"/><circle cx="317.2" cy="122.2" r="1.35"/><circle cx="305.6" cy="115.0" r="1.35"/><circle cx="311.3" cy="135.9" r="1.35"/><circle cx="302.1" cy="143.3" r="1.35"/><circle cx="312.1" cy="111.1" r="1.35"/><circle cx="301.8" cy="128.1" r="1.35"/><circle cx="318.9" cy="133.2" r="1.35"/><circle cx="310.4" cy="118.2" r="1.35"/><circle cx="303.3" cy="137.3" r="1.35"/><circle cx="301.6" cy="121.8" r="1.35"/><circle cx="311.9" cy="130.6" r="1.35"/><circle cx="314.5" cy="146.9" r="1.35"/><circle cx="312.2" cy="121.7" r="1.35"/><circle cx="307.6" cy="109.9" r="1.35"/><circle cx="306.5" cy="142.0" r="1.35"/><circle cx="311.2" cy="141.5" r="1.35"/><circle cx="305.9" cy="126.5" r="1.35"/><circle cx="318.5" cy="137.0" r="1.35"/><circle cx="309.0" cy="138.8" r="1.35"/><circle cx="310.1" cy="144.9" r="1.35"/><circle cx="316.3" cy="127.0" r="1.35"/><circle cx="313.1" cy="125.2" r="1.35"/><circle cx="306.3" cy="107.2" r="1.35"/><circle cx="311.7" cy="149.8" r="1.35"/><circle cx="304.4" cy="119.7" r="1.35"/><circle cx="318.2" cy="118.7" r="1.35"/><circle cx="315.4" cy="134.9" r="1.35"/><circle cx="301.3" cy="134.2" r="1.35"/><circle cx="314.9" cy="114.5" r="1.35"/><circle cx="304.8" cy="111.3" r="1.35"/><circle cx="310.6" cy="125.9" r="1.35"/><circle cx="306.6" cy="150.3" r="1.35"/><circle cx="319.6" cy="139.8" r="1.35"/><circle cx="300.5" cy="140.5" r="1.35"/><circle cx="319.0" cy="127.9" r="1.35"/><circle cx="309.6" cy="156.8" r="1.35"/><circle cx="312.4" cy="106.8" r="1.35"/><circle cx="299.5" cy="131.4" r="1.35"/><circle cx="305.9" cy="144.4" r="1.35"/><circle cx="317.3" cy="142.6" r="1.35"/><circle cx="303.5" cy="116.9" r="1.35"/><circle cx="315.0" cy="119.4" r="1.35"/><circle cx="303.8" cy="123.7" r="1.35"/><circle cx="306.3" cy="135.5" r="1.35"/><circle cx="300.2" cy="119.2" r="1.35"/><circle cx="316.4" cy="116.1" r="1.35"/><circle cx="315.2" cy="112.2" r="1.35"/><circle cx="308.0" cy="123.7" r="1.35"/><circle cx="310.6" cy="152.6" r="1.35"/><circle cx="313.7" cy="129.9" r="1.35"/><circle cx="308.8" cy="113.8" r="1.35"/><circle cx="317.3" cy="131.0" r="1.35"/><circle cx="306.8" cy="113.1" r="1.35"/><circle cx="303.4" cy="130.5" r="1.35"/><circle cx="316.6" cy="139.8" r="1.35"/><circle cx="308.3" cy="147.2" r="1.35"/></g>
<g fill="#e4474d" fill-opacity="1"><circle cx="309.4" cy="176.6" r="1.35"/></g>
<g stroke="#ea7b84" stroke-width="1.05" fill="none"><line x1="309.4" y1="102.6" x2="309.4" y2="122"/><line x1="309.4" y1="141.4" x2="309.4" y2="158.7"/><rect x="296.4" y="122" width="26" height="19.400000000000006"/><line x1="296.4" y1="133.9" x2="322.4" y2="133.9" stroke="#df4a55" stroke-width="1.9"/></g>
<path d="M276.2,46.199999999999996 V42.3 H309.8 V46.199999999999996" stroke="#4a4a4a" stroke-width="1" fill="none"/>
<g fill="#333"><circle cx="293.00" cy="38.40" r="1.15"/></g>
<rect x="362" y="23" width="106" height="11.799999999999997" fill="#d9d9d9"/>
<text x="415.00" y="31.60" font-size="9.6" text-anchor="middle" fill="#333333" font-weight="normal" stroke="#333333" stroke-width="0.1" textLength="21.5" lengthAdjust="spacingAndGlyphs">MYC</text>
<line x1="361.90" y1="34.80" x2="361.90" y2="190.15" stroke="#262626" stroke-width="1.3"/>
<line x1="361.25" y1="189.50" x2="468.00" y2="189.50" stroke="#262626" stroke-width="1.3"/>
<line x1="358.90" y1="42.60" x2="361.90" y2="42.60" stroke="#2f2f2f" stroke-width="1"/>
<text transform="translate(356.00,45.05) scale(0.89,1)" font-size="8.8" text-anchor="end" fill="#333333" font-weight="normal" stroke="#333333" stroke-width="0.1" >17.5</text>
<line x1="358.90" y1="77.50" x2="361.90" y2="77.50" stroke="#2f2f2f" stroke-width="1"/>
<text transform="translate(356.00,79.95) scale(0.89,1)" font-size="8.8" text-anchor="end" fill="#333333" font-weight="normal" stroke="#333333" stroke-width="0.1" >15.0</text>
<line x1="358.90" y1="112.50" x2="361.90" y2="112.50" stroke="#2f2f2f" stroke-width="1"/>
<text transform="translate(356.00,114.95) scale(0.89,1)" font-size="8.8" text-anchor="end" fill="#333333" font-weight="normal" stroke="#333333" stroke-width="0.1" >12.5</text>
<line x1="358.90" y1="147.40" x2="361.90" y2="147.40" stroke="#2f2f2f" stroke-width="1"/>
<text transform="translate(356.00,149.85) scale(0.89,1)" font-size="8.8" text-anchor="end" fill="#333333" font-weight="normal" stroke="#333333" stroke-width="0.1" >10.0</text>
<line x1="358.90" y1="182.30" x2="361.90" y2="182.30" stroke="#2f2f2f" stroke-width="1"/>
<text transform="translate(356.00,184.75) scale(0.89,1)" font-size="8.8" text-anchor="end" fill="#333333" font-weight="normal" stroke="#333333" stroke-width="0.1" >7.5</text>
<line x1="381.90" y1="189.50" x2="381.90" y2="192.50" stroke="#2f2f2f" stroke-width="1"/>
<text transform="translate(381.90,202.80) scale(0.92,1)" font-size="8.6" text-anchor="middle" fill="#333333" font-weight="normal" stroke="#333333" stroke-width="0.1" >DLBCL</text>
<line x1="415.10" y1="189.50" x2="415.10" y2="192.50" stroke="#2f2f2f" stroke-width="1"/>
<text transform="translate(415.10,202.80) scale(0.92,1)" font-size="8.6" text-anchor="middle" fill="#333333" font-weight="normal" stroke="#333333" stroke-width="0.1" >dFL</text>
<line x1="448.40" y1="189.50" x2="448.40" y2="192.50" stroke="#2f2f2f" stroke-width="1"/>
<text transform="translate(448.40,202.80) scale(0.92,1)" font-size="8.6" text-anchor="middle" fill="#333333" font-weight="normal" stroke="#333333" stroke-width="0.1" >cFL</text>
<g fill="#2aa664" fill-opacity="0.8"><circle cx="381.9" cy="96.0" r="1.3"/><circle cx="382.4" cy="99.0" r="1.3"/><circle cx="381.4" cy="102.0" r="1.3"/><circle cx="381.9" cy="105.0" r="1.3"/><circle cx="382.5" cy="108.0" r="1.3"/><circle cx="381.5" cy="111.0" r="1.3"/><circle cx="381.9" cy="113.5" r="1.3"/></g>
<g fill="#2aa664" fill-opacity="0.22" stroke="#2aa664" stroke-opacity="0.9" stroke-width="0.75"><circle cx="390.8" cy="142.2" r="1.35"/><circle cx="383.0" cy="111.2" r="1.35"/><circle cx="382.5" cy="166.1" r="1.35"/><circle cx="374.3" cy="133.1" r="1.35"/><circle cx="376.9" cy="150.1" r="1.35"/><circle cx="383.4" cy="132.7" r="1.35"/><circle cx="384.0" cy="152.5" r="1.35"/><circle cx="386.9" cy="121.3" r="1.35"/><circle cx="379.1" cy="140.4" r="1.35"/><circle cx="382.8" cy="160.8" r="1.35"/><circle cx="387.8" cy="135.5" r="1.35"/><circle cx="379.8" cy="124.7" r="1.35"/><circle cx="383.7" cy="146.0" r="1.35"/><circle cx="381.1" cy="117.8" r="1.35"/><circle cx="389.0" cy="130.0" r="1.35"/><circle cx="373.2" cy="145.6" r="1.35"/><circle cx="377.5" cy="155.3" r="1.35"/><circle cx="371.6" cy="140.6" r="1.35"/><circle cx="389.0" cy="148.6" r="1.35"/><circle cx="385.0" cy="140.5" r="1.35"/><circle cx="374.6" cy="122.8" r="1.35"/><circle cx="380.1" cy="150.1" r="1.35"/><circle cx="385.2" cy="118.3" r="1.35"/><circle cx="374.9" cy="142.0" r="1.35"/><circle cx="382.5" cy="128.0" r="1.35"/><circle cx="393.0" cy="145.3" r="1.35"/><circle cx="384.6" cy="115.0" r="1.35"/><circle cx="380.9" cy="155.6" r="1.35"/><circle cx="377.3" cy="120.5" r="1.35"/><circle cx="379.0" cy="130.3" r="1.35"/><circle cx="376.1" cy="126.1" r="1.35"/><circle cx="382.7" cy="142.3" r="1.35"/><circle cx="391.2" cy="138.1" r="1.35"/><circle cx="387.2" cy="144.0" r="1.35"/><circle cx="382.1" cy="122.5" r="1.35"/><circle cx="387.9" cy="139.8" r="1.35"/><circle cx="379.9" cy="137.1" r="1.35"/><circle cx="387.7" cy="124.5" r="1.35"/><circle cx="384.6" cy="137.0" r="1.35"/><circle cx="379.3" cy="146.1" r="1.35"/><circle cx="375.9" cy="135.5" r="1.35"/><circle cx="378.3" cy="133.5" r="1.35"/><circle cx="375.1" cy="138.0" r="1.35"/><circle cx="384.4" cy="116.9" r="1.35"/><circle cx="384.1" cy="127.0" r="1.35"/><circle cx="383.2" cy="155.9" r="1.35"/><circle cx="387.9" cy="142.1" r="1.35"/><circle cx="379.0" cy="160.1" r="1.35"/><circle cx="371.8" cy="143.6" r="1.35"/><circle cx="386.7" cy="155.2" r="1.35"/><circle cx="383.2" cy="113.3" r="1.35"/><circle cx="381.1" cy="129.9" r="1.35"/><circle cx="384.8" cy="148.5" r="1.35"/><circle cx="383.9" cy="130.3" r="1.35"/><circle cx="385.9" cy="129.3" r="1.35"/><circle cx="375.4" cy="129.9" r="1.35"/><circle cx="372.4" cy="138.4" r="1.35"/><circle cx="386.8" cy="152.0" r="1.35"/><circle cx="382.8" cy="118.6" r="1.35"/><circle cx="378.0" cy="142.9" r="1.35"/><circle cx="383.2" cy="144.2" r="1.35"/><circle cx="380.3" cy="116.0" r="1.35"/><circle cx="389.3" cy="132.3" r="1.35"/><circle cx="377.5" cy="152.4" r="1.35"/><circle cx="380.4" cy="127.5" r="1.35"/><circle cx="379.2" cy="157.1" r="1.35"/><circle cx="379.7" cy="119.2" r="1.35"/><circle cx="385.9" cy="145.9" r="1.35"/><circle cx="385.8" cy="133.3" r="1.35"/><circle cx="380.9" cy="133.9" r="1.35"/><circle cx="375.8" cy="124.1" r="1.35"/><circle cx="376.4" cy="140.7" r="1.35"/><circle cx="392.9" cy="141.6" r="1.35"/><circle cx="382.3" cy="115.2" r="1.35"/><circle cx="389.0" cy="127.0" r="1.35"/><circle cx="373.0" cy="142.0" r="1.35"/><circle cx="377.5" cy="117.6" r="1.35"/><circle cx="388.5" cy="151.2" r="1.35"/><circle cx="381.9" cy="157.5" r="1.35"/><circle cx="384.9" cy="158.8" r="1.35"/><circle cx="374.7" cy="149.5" r="1.35"/><circle cx="379.2" cy="116.9" r="1.35"/><circle cx="382.5" cy="148.9" r="1.35"/><circle cx="383.6" cy="162.9" r="1.35"/><circle cx="382.2" cy="124.8" r="1.35"/><circle cx="380.7" cy="112.6" r="1.35"/><circle cx="377.6" cy="145.3" r="1.35"/><circle cx="389.2" cy="121.6" r="1.35"/><circle cx="380.3" cy="142.4" r="1.35"/><circle cx="376.7" cy="147.6" r="1.35"/><circle cx="378.6" cy="158.5" r="1.35"/><circle cx="388.3" cy="149.7" r="1.35"/><circle cx="381.4" cy="111.3" r="1.35"/><circle cx="389.7" cy="146.1" r="1.35"/><circle cx="381.7" cy="163.4" r="1.35"/><circle cx="379.2" cy="128.0" r="1.35"/><circle cx="381.4" cy="118.9" r="1.35"/><circle cx="381.2" cy="144.9" r="1.35"/><circle cx="387.4" cy="117.6" r="1.35"/><circle cx="384.1" cy="135.0" r="1.35"/><circle cx="378.1" cy="118.7" r="1.35"/><circle cx="374.2" cy="127.5" r="1.35"/><circle cx="382.4" cy="140.1" r="1.35"/><circle cx="380.4" cy="158.4" r="1.35"/><circle cx="387.2" cy="138.3" r="1.35"/><circle cx="382.6" cy="135.1" r="1.35"/><circle cx="379.5" cy="144.2" r="1.35"/><circle cx="377.0" cy="137.9" r="1.35"/><circle cx="392.2" cy="143.0" r="1.35"/><circle cx="375.2" cy="144.0" r="1.35"/><circle cx="384.0" cy="118.7" r="1.35"/><circle cx="376.3" cy="153.4" r="1.35"/><circle cx="385.9" cy="142.6" r="1.35"/><circle cx="380.1" cy="153.7" r="1.35"/><circle cx="377.2" cy="135.9" r="1.35"/><circle cx="378.9" cy="121.5" r="1.35"/><circle cx="377.8" cy="148.5" r="1.35"/><circle cx="386.8" cy="148.6" r="1.35"/><circle cx="385.3" cy="149.7" r="1.35"/><circle cx="384.4" cy="151.3" r="1.35"/><circle cx="378.6" cy="136.2" r="1.35"/><circle cx="376.5" cy="120.0" r="1.35"/><circle cx="380.5" cy="132.1" r="1.35"/><circle cx="382.7" cy="137.8" r="1.35"/><circle cx="378.0" cy="124.5" r="1.35"/></g>
<polygon points="370.70,137.00 370.70,146.00 393.10,146.00 393.10,137.00" fill="#6cc89a" fill-opacity="0.25"/>
<g fill="#2aa664" fill-opacity="0.3" stroke="#2aa664" stroke-opacity="0.9" stroke-width="0.75"><circle cx="374.7" cy="144.6" r="1.35"/><circle cx="392.5" cy="137.7" r="1.35"/><circle cx="384.2" cy="142.1" r="1.35"/><circle cx="375.6" cy="140.6" r="1.35"/><circle cx="377.9" cy="137.1" r="1.35"/><circle cx="378.6" cy="144.6" r="1.35"/><circle cx="388.2" cy="141.1" r="1.35"/><circle cx="383.2" cy="137.1" r="1.35"/><circle cx="391.2" cy="143.4" r="1.35"/><circle cx="381.3" cy="144.0" r="1.35"/><circle cx="380.7" cy="141.0" r="1.35"/><circle cx="371.4" cy="138.5" r="1.35"/><circle cx="371.3" cy="142.7" r="1.35"/><circle cx="383.9" cy="145.0" r="1.35"/><circle cx="374.0" cy="137.8" r="1.35"/><circle cx="380.1" cy="137.4" r="1.35"/><circle cx="392.5" cy="145.1" r="1.35"/><circle cx="391.8" cy="140.8" r="1.35"/><circle cx="389.2" cy="142.7" r="1.35"/><circle cx="372.1" cy="140.5" r="1.35"/><circle cx="385.9" cy="143.1" r="1.35"/><circle cx="377.0" cy="139.8" r="1.35"/><circle cx="386.0" cy="140.9" r="1.35"/><circle cx="374.0" cy="142.7" r="1.35"/><circle cx="378.3" cy="141.5" r="1.35"/><circle cx="384.6" cy="139.6" r="1.35"/><circle cx="377.1" cy="143.5" r="1.35"/><circle cx="386.1" cy="145.4" r="1.35"/><circle cx="383.4" cy="143.2" r="1.35"/><circle cx="378.9" cy="138.1" r="1.35"/></g>
<g fill="#1f6e48" fill-opacity="1"><circle cx="381.9" cy="74.8" r="1.45"/><circle cx="381.9" cy="92.6" r="1.45"/><circle cx="381.9" cy="182.4" r="1.45"/></g>
<g stroke="#16803f" stroke-width="1.05" fill="none"><line x1="381.9" y1="93" x2="381.9" y2="125.6"/><line x1="381.9" y1="145.5" x2="381.9" y2="167"/><rect x="369.5" y="125.6" width="24.8" height="19.900000000000006"/><line x1="369.5" y1="140.5" x2="394.29999999999995" y2="140.5" stroke="#137a3d" stroke-width="1.9"/></g>
<g fill="#86cfbd" fill-opacity="0.3" stroke="#86cfbd" stroke-opacity="0.9" stroke-width="0.75"><circle cx="425.0" cy="147.7" r="1.35"/><circle cx="413.3" cy="158.7" r="1.35"/><circle cx="414.0" cy="134.1" r="1.35"/><circle cx="412.9" cy="149.1" r="1.35"/><circle cx="414.3" cy="165.7" r="1.35"/><circle cx="406.2" cy="146.3" r="1.35"/><circle cx="418.3" cy="153.2" r="1.35"/><circle cx="411.8" cy="143.5" r="1.35"/><circle cx="416.1" cy="161.8" r="1.35"/><circle cx="406.8" cy="154.0" r="1.35"/><circle cx="419.9" cy="144.7" r="1.35"/><circle cx="420.7" cy="149.7" r="1.35"/><circle cx="412.5" cy="154.2" r="1.35"/><circle cx="418.1" cy="146.7" r="1.35"/><circle cx="422.6" cy="145.5" r="1.35"/><circle cx="416.8" cy="139.3" r="1.35"/><circle cx="424.2" cy="157.3" r="1.35"/><circle cx="419.6" cy="158.0" r="1.35"/><circle cx="422.7" cy="150.6" r="1.35"/><circle cx="413.8" cy="139.4" r="1.35"/><circle cx="416.3" cy="149.7" r="1.35"/><circle cx="424.1" cy="153.1" r="1.35"/><circle cx="409.5" cy="150.4" r="1.35"/><circle cx="410.8" cy="146.6" r="1.35"/><circle cx="417.5" cy="141.5" r="1.35"/><circle cx="408.2" cy="157.7" r="1.35"/><circle cx="416.6" cy="144.6" r="1.35"/><circle cx="410.8" cy="156.9" r="1.35"/><circle cx="414.9" cy="146.5" r="1.35"/><circle cx="405.0" cy="149.7" r="1.35"/><circle cx="414.3" cy="155.7" r="1.35"/><circle cx="421.6" cy="154.9" r="1.35"/><circle cx="414.3" cy="151.6" r="1.35"/><circle cx="415.1" cy="143.0" r="1.35"/><circle cx="415.3" cy="137.6" r="1.35"/><circle cx="416.2" cy="153.4" r="1.35"/><circle cx="410.4" cy="154.4" r="1.35"/><circle cx="406.1" cy="152.0" r="1.35"/><circle cx="415.7" cy="133.9" r="1.35"/><circle cx="419.6" cy="159.9" r="1.35"/><circle cx="413.7" cy="161.1" r="1.35"/><circle cx="419.1" cy="151.1" r="1.35"/><circle cx="408.6" cy="151.8" r="1.35"/><circle cx="423.1" cy="147.5" r="1.35"/><circle cx="421.1" cy="152.3" r="1.35"/><circle cx="412.8" cy="137.5" r="1.35"/><circle cx="411.2" cy="149.9" r="1.35"/><circle cx="413.2" cy="145.8" r="1.35"/><circle cx="418.3" cy="148.3" r="1.35"/><circle cx="408.9" cy="144.5" r="1.35"/><circle cx="416.9" cy="159.5" r="1.35"/><circle cx="416.4" cy="157.4" r="1.35"/><circle cx="422.7" cy="152.1" r="1.35"/><circle cx="407.3" cy="149.5" r="1.35"/><circle cx="416.7" cy="155.4" r="1.35"/></g>
<g stroke="#8ccfbf" stroke-width="1.05" fill="none"><line x1="415.1" y1="131.5" x2="415.1" y2="146.3"/><line x1="415.1" y1="157.8" x2="415.1" y2="168.1"/><rect x="402.1" y="146.3" width="26" height="11.5"/><line x1="402.1" y1="152.3" x2="428.1" y2="152.3" stroke="#62b5a3" stroke-width="1.9"/></g>
<g fill="#f07a7e" fill-opacity="0.6"><circle cx="441.4" cy="146.3" r="1.3"/><circle cx="443.9" cy="146.3" r="1.3"/><circle cx="446.4" cy="146.3" r="1.3"/><circle cx="448.9" cy="146.3" r="1.3"/><circle cx="451.4" cy="146.3" r="1.3"/><circle cx="453.9" cy="146.3" r="1.3"/><circle cx="456.4" cy="146.3" r="1.3"/></g>
<g fill="#f07a7e" fill-opacity="0.3" stroke="#f07a7e" stroke-opacity="0.9" stroke-width="0.75"><circle cx="444.3" cy="166.5" r="1.35"/><circle cx="448.7" cy="136.7" r="1.35"/><circle cx="453.6" cy="155.4" r="1.35"/><circle cx="440.4" cy="153.6" r="1.35"/><circle cx="450.5" cy="161.6" r="1.35"/><circle cx="438.9" cy="163.8" r="1.35"/><circle cx="454.9" cy="161.7" r="1.35"/><circle cx="444.9" cy="161.1" r="1.35"/><circle cx="449.0" cy="145.7" r="1.35"/><circle cx="446.4" cy="156.8" r="1.35"/><circle cx="449.0" cy="174.6" r="1.35"/><circle cx="450.8" cy="166.1" r="1.35"/><circle cx="438.0" cy="159.5" r="1.35"/><circle cx="457.2" cy="158.3" r="1.35"/><circle cx="455.0" cy="151.7" r="1.35"/><circle cx="441.8" cy="157.1" r="1.35"/><circle cx="449.7" cy="158.5" r="1.35"/><circle cx="450.5" cy="150.4" r="1.35"/><circle cx="449.3" cy="171.5" r="1.35"/><circle cx="447.6" cy="163.9" r="1.35"/><circle cx="454.3" cy="165.8" r="1.35"/><circle cx="446.8" cy="168.7" r="1.35"/><circle cx="443.7" cy="156.0" r="1.35"/><circle cx="441.6" cy="160.0" r="1.35"/><circle cx="447.3" cy="159.1" r="1.35"/><circle cx="442.0" cy="167.3" r="1.35"/><circle cx="446.7" cy="172.8" r="1.35"/><circle cx="449.5" cy="153.8" r="1.35"/><circle cx="446.9" cy="153.6" r="1.35"/><circle cx="444.3" cy="153.2" r="1.35"/><circle cx="458.6" cy="165.8" r="1.35"/><circle cx="451.0" cy="168.6" r="1.35"/><circle cx="452.6" cy="151.7" r="1.35"/><circle cx="452.0" cy="157.8" r="1.35"/><circle cx="445.9" cy="151.1" r="1.35"/><circle cx="448.2" cy="148.9" r="1.35"/><circle cx="452.7" cy="160.4" r="1.35"/><circle cx="456.7" cy="155.7" r="1.35"/><circle cx="443.1" cy="163.9" r="1.35"/><circle cx="454.8" cy="158.9" r="1.35"/><circle cx="451.7" cy="153.1" r="1.35"/><circle cx="452.3" cy="166.2" r="1.35"/><circle cx="443.2" cy="159.3" r="1.35"/><circle cx="452.3" cy="163.3" r="1.35"/><circle cx="447.7" cy="144.2" r="1.35"/><circle cx="456.6" cy="163.8" r="1.35"/><circle cx="450.0" cy="163.8" r="1.35"/><circle cx="437.3" cy="165.6" r="1.35"/><circle cx="448.2" cy="140.8" r="1.35"/><circle cx="456.8" cy="166.7" r="1.35"/><circle cx="446.2" cy="165.7" r="1.35"/><circle cx="442.0" cy="162.3" r="1.35"/><circle cx="448.0" cy="166.5" r="1.35"/><circle cx="448.7" cy="147.8" r="1.35"/><circle cx="440.6" cy="155.9" r="1.35"/></g>
<g fill="#e4474d" fill-opacity="1"><circle cx="448.4" cy="182.2" r="1.35"/></g>
<g stroke="#ea7b84" stroke-width="1.05" fill="none"><line x1="448.4" y1="135" x2="448.4" y2="152.3"/><line x1="448.4" y1="163.5" x2="448.4" y2="176"/><rect x="435.9" y="152.3" width="25.0" height="11.199999999999989"/><line x1="435.9" y1="160.4" x2="460.9" y2="160.4" stroke="#df4a55" stroke-width="1.9"/></g>
<path d="M415.3,46.099999999999994 V42.3 H448.7 V46.099999999999994" stroke="#4a4a4a" stroke-width="1" fill="none"/>
<g fill="#333"><circle cx="428.25" cy="38.30" r="1.15"/><circle cx="432.00" cy="38.30" r="1.15"/><circle cx="435.75" cy="38.30" r="1.15"/></g>
<path d="M381.8,58.4 V54.8 H448.7 V58.4" stroke="#4a4a4a" stroke-width="1" fill="none"/>
<g fill="#333"><circle cx="409.62" cy="51.00" r="1.15"/><circle cx="413.38" cy="51.00" r="1.15"/><circle cx="417.12" cy="51.00" r="1.15"/><circle cx="420.88" cy="51.00" r="1.15"/></g>
<path d="M381.8,70.7 V66.5 H415.3 V70.7" stroke="#4a4a4a" stroke-width="1" fill="none"/>
<g fill="#333"><circle cx="392.93" cy="62.60" r="1.15"/><circle cx="396.68" cy="62.60" r="1.15"/><circle cx="400.43" cy="62.60" r="1.15"/><circle cx="404.18" cy="62.60" r="1.15"/></g>
<text transform="translate(25.2,321) rotate(-90)" font-size="7.8" text-anchor="middle" fill="#333333" stroke="#333333" stroke-width="0.15" textLength="32" lengthAdjust="spacingAndGlyphs">Exposure</text>
<rect x="56" y="236.6" width="87" height="11.200000000000017" fill="#d9d9d9"/>
<text x="99.50" y="244.60" font-size="9.6" text-anchor="middle" fill="#333333" font-weight="normal" stroke="#333333" stroke-width="0.1" textLength="21.1" lengthAdjust="spacingAndGlyphs">SBS1</text>
<line x1="56.60" y1="247.80" x2="56.60" y2="395.45" stroke="#262626" stroke-width="1.3"/>
<line x1="55.95" y1="394.80" x2="143.00" y2="394.80" stroke="#262626" stroke-width="1.3"/>
<line x1="53.60" y1="248.40" x2="56.60" y2="248.40" stroke="#2f2f2f" stroke-width="1"/>
<text transform="translate(50.70,250.85) scale(0.89,1)" font-size="8.8" text-anchor="end" fill="#333333" font-weight="normal" stroke="#333333" stroke-width="0.1" >3000</text>
<line x1="53.60" y1="295.10" x2="56.60" y2="295.10" stroke="#2f2f2f" stroke-width="1"/>
<text transform="translate(50.70,297.55) scale(0.89,1)" font-size="8.8" text-anchor="end" fill="#333333" font-weight="normal" stroke="#333333" stroke-width="0.1" >2000</text>
<line x1="53.60" y1="341.70" x2="56.60" y2="341.70" stroke="#2f2f2f" stroke-width="1"/>
<text transform="translate(50.70,344.15) scale(0.89,1)" font-size="8.8" text-anchor="end" fill="#333333" font-weight="normal" stroke="#333333" stroke-width="0.1" >1000</text>
<line x1="53.60" y1="388.40" x2="56.60" y2="388.40" stroke="#2f2f2f" stroke-width="1"/>
<text transform="translate(50.70,390.85) scale(0.89,1)" font-size="8.8" text-anchor="end" fill="#333333" font-weight="normal" stroke="#333333" stroke-width="0.1" >0</text>
<line x1="72.40" y1="394.80" x2="72.40" y2="397.80" stroke="#2f2f2f" stroke-width="1"/>
<text transform="translate(72.40,408.40) scale(0.92,1)" font-size="8.6" text-anchor="middle" fill="#333333" font-weight="normal" stroke="#333333" stroke-width="0.1" >DLBCL</text>
<line x1="99.30" y1="394.80" x2="99.30" y2="397.80" stroke="#2f2f2f" stroke-width="1"/>
<text transform="translate(99.30,408.40) scale(0.92,1)" font-size="8.6" text-anchor="middle" fill="#333333" font-weight="normal" stroke="#333333" stroke-width="0.1" >dFL</text>
<line x1="126.40" y1="394.80" x2="126.40" y2="397.80" stroke="#2f2f2f" stroke-width="1"/>
<text transform="translate(126.40,408.40) scale(0.92,1)" font-size="8.6" text-anchor="middle" fill="#333333" font-weight="normal" stroke="#333333" stroke-width="0.1" >cFL</text>
<polygon points="71.50,337.00 71.00,349.00 69.70,350.60 67.80,353.30 66.10,356.00 63.80,358.70 62.00,360.50 62.00,374.00 63.80,377.50 65.80,381.00 67.40,384.70 69.60,388.60 75.40,388.60 77.60,384.70 79.20,381.00 81.20,377.50 83.00,374.00 83.00,360.50 81.20,358.70 78.90,356.00 77.20,353.30 75.30,350.60 74.00,349.00 73.50,337.00" fill="#6cc89a" fill-opacity="0.3"/>
<g fill="#2aa664" fill-opacity="0.3" stroke="#2aa664" stroke-opacity="0.9" stroke-width="0.6"><circle cx="72.5" cy="356.3" r="1.15"/><circle cx="73.7" cy="384.2" r="1.15"/><circle cx="72.2" cy="369.7" r="1.15"/><circle cx="65.4" cy="366.0" r="1.15"/><circle cx="71.9" cy="347.2" r="1.15"/><circle cx="73.8" cy="378.9" r="1.15"/><circle cx="66.7" cy="375.2" r="1.15"/><circle cx="82.2" cy="361.0" r="1.15"/><circle cx="80.0" cy="376.5" r="1.15"/><circle cx="70.7" cy="388.4" r="1.15"/><circle cx="69.6" cy="360.6" r="1.15"/><circle cx="75.4" cy="363.0" r="1.15"/><circle cx="73.9" cy="350.6" r="1.15"/><circle cx="68.2" cy="368.0" r="1.15"/><circle cx="72.9" cy="373.2" r="1.15"/><circle cx="76.9" cy="357.5" r="1.15"/><circle cx="78.9" cy="369.7" r="1.15"/><circle cx="79.6" cy="366.0" r="1.15"/><circle cx="64.8" cy="358.2" r="1.15"/><circle cx="68.9" cy="386.1" r="1.15"/><circle cx="71.3" cy="376.0" r="1.15"/><circle cx="63.0" cy="371.3" r="1.15"/><circle cx="77.0" cy="381.6" r="1.15"/><circle cx="69.9" cy="373.2" r="1.15"/><circle cx="74.0" cy="358.0" r="1.15"/><circle cx="70.5" cy="365.1" r="1.15"/><circle cx="72.6" cy="340.8" r="1.15"/><circle cx="69.7" cy="352.4" r="1.15"/><circle cx="75.0" cy="369.7" r="1.15"/><circle cx="68.2" cy="382.4" r="1.15"/><circle cx="77.0" cy="360.7" r="1.15"/><circle cx="63.0" cy="361.5" r="1.15"/><circle cx="69.8" cy="380.6" r="1.15"/><circle cx="76.3" cy="375.8" r="1.15"/><circle cx="81.2" cy="374.2" r="1.15"/><circle cx="81.1" cy="364.3" r="1.15"/><circle cx="81.8" cy="369.7" r="1.15"/><circle cx="72.0" cy="367.0" r="1.15"/><circle cx="67.0" cy="372.0" r="1.15"/><circle cx="75.2" cy="387.1" r="1.15"/><circle cx="71.0" cy="383.3" r="1.15"/><circle cx="64.9" cy="378.4" r="1.15"/><circle cx="78.5" cy="373.4" r="1.15"/><circle cx="72.1" cy="386.6" r="1.15"/><circle cx="81.0" cy="372.2" r="1.15"/><circle cx="68.7" cy="354.0" r="1.15"/><circle cx="70.8" cy="355.2" r="1.15"/><circle cx="66.1" cy="360.4" r="1.15"/><circle cx="72.5" cy="362.6" r="1.15"/><circle cx="62.5" cy="367.0" r="1.15"/><circle cx="74.7" cy="366.4" r="1.15"/><circle cx="72.1" cy="360.0" r="1.15"/><circle cx="64.1" cy="373.4" r="1.15"/><circle cx="73.2" cy="386.3" r="1.15"/><circle cx="68.6" cy="375.6" r="1.15"/><circle cx="79.4" cy="371.1" r="1.15"/><circle cx="79.5" cy="379.0" r="1.15"/><circle cx="77.2" cy="364.1" r="1.15"/><circle cx="79.5" cy="361.3" r="1.15"/><circle cx="70.3" cy="371.2" r="1.15"/><circle cx="77.9" cy="376.0" r="1.15"/><circle cx="74.0" cy="353.2" r="1.15"/><circle cx="68.5" cy="358.1" r="1.15"/><circle cx="71.8" cy="353.4" r="1.15"/><circle cx="74.1" cy="370.1" r="1.15"/><circle cx="82.4" cy="371.1" r="1.15"/><circle cx="73.5" cy="371.8" r="1.15"/><circle cx="74.6" cy="360.2" r="1.15"/><circle cx="68.8" cy="363.8" r="1.15"/><circle cx="64.4" cy="362.6" r="1.15"/><circle cx="73.3" cy="364.4" r="1.15"/><circle cx="71.8" cy="349.7" r="1.15"/><circle cx="67.8" cy="362.4" r="1.15"/><circle cx="80.9" cy="359.8" r="1.15"/><circle cx="66.1" cy="356.6" r="1.15"/><circle cx="65.8" cy="369.4" r="1.15"/><circle cx="66.0" cy="363.5" r="1.15"/><circle cx="71.2" cy="379.7" r="1.15"/><circle cx="72.7" cy="365.5" r="1.15"/><circle cx="72.4" cy="343.2" r="1.15"/><circle cx="76.2" cy="383.1" r="1.15"/><circle cx="76.1" cy="367.7" r="1.15"/><circle cx="70.2" cy="376.1" r="1.15"/><circle cx="79.1" cy="375.2" r="1.15"/><circle cx="71.7" cy="381.4" r="1.15"/><circle cx="67.6" cy="365.2" r="1.15"/><circle cx="70.1" cy="369.9" r="1.15"/><circle cx="79.6" cy="363.8" r="1.15"/><circle cx="65.9" cy="377.0" r="1.15"/><circle cx="72.8" cy="347.2" r="1.15"/><circle cx="72.1" cy="351.5" r="1.15"/><circle cx="72.2" cy="337.1" r="1.15"/><circle cx="77.0" cy="377.1" r="1.15"/><circle cx="63.8" cy="376.1" r="1.15"/><circle cx="66.6" cy="358.5" r="1.15"/><circle cx="67.4" cy="380.5" r="1.15"/><circle cx="75.6" cy="373.4" r="1.15"/><circle cx="73.7" cy="388.1" r="1.15"/><circle cx="69.1" cy="377.2" r="1.15"/><circle cx="73.0" cy="339.6" r="1.15"/><circle cx="74.7" cy="354.9" r="1.15"/><circle cx="68.7" cy="369.3" r="1.15"/><circle cx="70.2" cy="378.5" r="1.15"/><circle cx="77.4" cy="366.5" r="1.15"/><circle cx="76.6" cy="365.7" r="1.15"/><circle cx="64.0" cy="367.4" r="1.15"/><circle cx="79.7" cy="358.7" r="1.15"/><circle cx="73.6" cy="367.9" r="1.15"/><circle cx="69.9" cy="367.5" r="1.15"/><circle cx="70.1" cy="386.1" r="1.15"/><circle cx="70.6" cy="381.9" r="1.15"/><circle cx="70.7" cy="350.8" r="1.15"/><circle cx="77.2" cy="372.6" r="1.15"/><circle cx="75.2" cy="364.8" r="1.15"/><circle cx="68.1" cy="360.9" r="1.15"/><circle cx="76.9" cy="379.6" r="1.15"/><circle cx="75.9" cy="358.4" r="1.15"/><circle cx="74.0" cy="359.1" r="1.15"/><circle cx="72.0" cy="345.2" r="1.15"/><circle cx="73.8" cy="382.5" r="1.15"/><circle cx="74.8" cy="385.6" r="1.15"/><circle cx="78.1" cy="358.3" r="1.15"/><circle cx="72.2" cy="382.5" r="1.15"/><circle cx="75.0" cy="368.0" r="1.15"/><circle cx="65.1" cy="374.5" r="1.15"/><circle cx="66.0" cy="379.4" r="1.15"/><circle cx="72.3" cy="354.8" r="1.15"/><circle cx="78.6" cy="367.9" r="1.15"/><circle cx="77.0" cy="378.7" r="1.15"/><circle cx="75.1" cy="371.5" r="1.15"/><circle cx="78.7" cy="380.6" r="1.15"/><circle cx="81.1" cy="365.9" r="1.15"/><circle cx="64.4" cy="368.4" r="1.15"/><circle cx="77.8" cy="355.3" r="1.15"/><circle cx="75.1" cy="372.4" r="1.15"/><circle cx="72.8" cy="377.0" r="1.15"/><circle cx="70.3" cy="358.9" r="1.15"/><circle cx="64.1" cy="366.1" r="1.15"/><circle cx="76.2" cy="354.1" r="1.15"/><circle cx="77.2" cy="374.5" r="1.15"/><circle cx="69.7" cy="356.3" r="1.15"/><circle cx="69.5" cy="374.6" r="1.15"/><circle cx="80.6" cy="377.8" r="1.15"/><circle cx="71.4" cy="363.5" r="1.15"/><circle cx="75.9" cy="380.8" r="1.15"/><circle cx="74.1" cy="380.5" r="1.15"/><circle cx="66.8" cy="366.7" r="1.15"/><circle cx="71.7" cy="384.4" r="1.15"/><circle cx="71.6" cy="361.5" r="1.15"/><circle cx="71.7" cy="358.3" r="1.15"/><circle cx="64.8" cy="370.0" r="1.15"/><circle cx="74.4" cy="356.7" r="1.15"/><circle cx="65.3" cy="361.8" r="1.15"/><circle cx="71.6" cy="371.4" r="1.15"/><circle cx="72.9" cy="358.0" r="1.15"/><circle cx="81.9" cy="373.2" r="1.15"/><circle cx="66.4" cy="368.7" r="1.15"/><circle cx="77.7" cy="370.2" r="1.15"/><circle cx="67.3" cy="356.1" r="1.15"/><circle cx="74.0" cy="362.8" r="1.15"/><circle cx="70.6" cy="359.8" r="1.15"/><circle cx="67.5" cy="373.5" r="1.15"/><circle cx="67.0" cy="382.2" r="1.15"/><circle cx="80.5" cy="362.9" r="1.15"/><circle cx="65.5" cy="367.4" r="1.15"/><circle cx="73.2" cy="375.4" r="1.15"/><circle cx="76.0" cy="352.4" r="1.15"/><circle cx="64.3" cy="359.8" r="1.15"/><circle cx="78.4" cy="361.4" r="1.15"/><circle cx="63.2" cy="369.0" r="1.15"/><circle cx="76.9" cy="362.9" r="1.15"/><circle cx="62.8" cy="373.4" r="1.15"/><circle cx="73.9" cy="373.6" r="1.15"/><circle cx="69.3" cy="387.4" r="1.15"/><circle cx="71.0" cy="370.4" r="1.15"/><circle cx="63.7" cy="363.2" r="1.15"/><circle cx="79.1" cy="356.9" r="1.15"/><circle cx="75.2" cy="356.8" r="1.15"/><circle cx="81.4" cy="376.0" r="1.15"/><circle cx="67.6" cy="377.5" r="1.15"/><circle cx="66.3" cy="362.5" r="1.15"/><circle cx="81.4" cy="367.3" r="1.15"/><circle cx="73.1" cy="343.8" r="1.15"/><circle cx="69.1" cy="362.1" r="1.15"/><circle cx="72.0" cy="364.6" r="1.15"/><circle cx="67.0" cy="370.6" r="1.15"/><circle cx="76.3" cy="385.3" r="1.15"/><circle cx="71.6" cy="387.8" r="1.15"/><circle cx="75.1" cy="353.7" r="1.15"/><circle cx="76.2" cy="368.6" r="1.15"/><circle cx="71.2" cy="356.9" r="1.15"/><circle cx="68.7" cy="384.6" r="1.15"/><circle cx="76.8" cy="369.4" r="1.15"/><circle cx="78.8" cy="377.5" r="1.15"/><circle cx="68.8" cy="359.6" r="1.15"/><circle cx="70.4" cy="374.3" r="1.15"/><circle cx="78.1" cy="360.0" r="1.15"/><circle cx="73.3" cy="385.2" r="1.15"/><circle cx="75.3" cy="377.9" r="1.15"/><circle cx="67.4" cy="357.8" r="1.15"/></g>
<g fill="#9aa49e" fill-opacity="1"><circle cx="66.9" cy="260.7" r="1.25"/><circle cx="72.3" cy="260.7" r="1.25"/></g>
<g fill="#9cc4ab" fill-opacity="1"><circle cx="72.4" cy="277.3" r="1.15"/><circle cx="72.4" cy="315.6" r="1.15"/><circle cx="72.4" cy="327.2" r="1.15"/><circle cx="72.4" cy="329.9" r="1.15"/><circle cx="72.5" cy="335.3" r="1.15"/></g>
<g stroke="#16803f" stroke-width="1.05" fill="none"><line x1="72.5" y1="337" x2="72.5" y2="359.5"/><line x1="72.5" y1="378.8" x2="72.5" y2="389"/><rect x="62.1" y="359.5" width="20.8" height="19.30000000000001"/><line x1="62.1" y1="369.3" x2="82.9" y2="369.3" stroke="#137a3d" stroke-width="1.9"/></g>
<polygon points="98.10,355.00 97.40,359.00 94.40,361.40 89.40,363.20 89.40,378.50 92.40,381.00 95.40,384.70 97.40,388.30 100.80,388.30 102.80,384.70 105.80,381.00 108.80,378.50 108.80,363.20 103.80,361.40 100.80,359.00 100.10,355.00" fill="#b4e2d6" fill-opacity="0.3"/>
<g fill="#86cfbd" fill-opacity="0.3" stroke="#86cfbd" stroke-opacity="0.9" stroke-width="0.6"><circle cx="107.4" cy="366.4" r="1.15"/><circle cx="91.9" cy="375.8" r="1.15"/><circle cx="102.9" cy="382.6" r="1.15"/><circle cx="100.3" cy="358.9" r="1.15"/><circle cx="100.2" cy="372.8" r="1.15"/><circle cx="95.8" cy="383.9" r="1.15"/><circle cx="104.0" cy="369.8" r="1.15"/><circle cx="93.3" cy="365.5" r="1.15"/><circle cx="106.3" cy="376.4" r="1.15"/><circle cx="95.2" cy="378.2" r="1.15"/><circle cx="102.5" cy="378.2" r="1.15"/><circle cx="94.3" cy="361.6" r="1.15"/><circle cx="94.7" cy="369.9" r="1.15"/><circle cx="100.0" cy="367.8" r="1.15"/><circle cx="90.6" cy="370.2" r="1.15"/><circle cx="96.7" cy="373.5" r="1.15"/><circle cx="98.5" cy="386.1" r="1.15"/><circle cx="104.8" cy="363.5" r="1.15"/><circle cx="93.5" cy="381.5" r="1.15"/><circle cx="104.2" cy="374.7" r="1.15"/><circle cx="90.0" cy="366.8" r="1.15"/><circle cx="91.2" cy="363.0" r="1.15"/><circle cx="97.5" cy="371.6" r="1.15"/><circle cx="103.0" cy="361.1" r="1.15"/><circle cx="92.8" cy="372.8" r="1.15"/><circle cx="98.6" cy="355.4" r="1.15"/><circle cx="101.0" cy="370.1" r="1.15"/><circle cx="108.0" cy="369.9" r="1.15"/><circle cx="97.0" cy="380.4" r="1.15"/><circle cx="98.8" cy="377.1" r="1.15"/><circle cx="90.8" cy="377.9" r="1.15"/><circle cx="101.2" cy="383.7" r="1.15"/><circle cx="99.0" cy="363.5" r="1.15"/><circle cx="101.7" cy="364.0" r="1.15"/><circle cx="102.7" cy="366.5" r="1.15"/><circle cx="97.1" cy="363.2" r="1.15"/><circle cx="92.2" cy="368.0" r="1.15"/><circle cx="94.2" cy="374.5" r="1.15"/><circle cx="100.9" cy="376.5" r="1.15"/><circle cx="107.0" cy="378.7" r="1.15"/><circle cx="106.7" cy="372.8" r="1.15"/><circle cx="98.1" cy="360.8" r="1.15"/><circle cx="105.0" cy="366.8" r="1.15"/><circle cx="96.6" cy="368.2" r="1.15"/><circle cx="90.7" cy="372.3" r="1.15"/><circle cx="99.3" cy="384.0" r="1.15"/><circle cx="103.5" cy="380.0" r="1.15"/><circle cx="97.3" cy="364.8" r="1.15"/><circle cx="108.1" cy="376.9" r="1.15"/><circle cx="104.2" cy="382.4" r="1.15"/><circle cx="107.8" cy="363.5" r="1.15"/><circle cx="106.4" cy="364.2" r="1.15"/><circle cx="104.7" cy="378.3" r="1.15"/><circle cx="99.3" cy="371.0" r="1.15"/><circle cx="101.9" cy="371.8" r="1.15"/><circle cx="99.9" cy="387.7" r="1.15"/><circle cx="90.6" cy="373.8" r="1.15"/><circle cx="105.8" cy="374.2" r="1.15"/><circle cx="95.3" cy="371.4" r="1.15"/><circle cx="97.3" cy="375.7" r="1.15"/><circle cx="98.5" cy="374.0" r="1.15"/><circle cx="97.5" cy="378.5" r="1.15"/><circle cx="98.2" cy="358.4" r="1.15"/><circle cx="100.4" cy="362.4" r="1.15"/><circle cx="100.5" cy="365.4" r="1.15"/><circle cx="106.4" cy="368.4" r="1.15"/><circle cx="106.3" cy="370.2" r="1.15"/><circle cx="99.7" cy="379.8" r="1.15"/><circle cx="93.3" cy="371.5" r="1.15"/><circle cx="98.3" cy="356.9" r="1.15"/><circle cx="92.2" cy="373.9" r="1.15"/><circle cx="101.9" cy="360.6" r="1.15"/><circle cx="95.2" cy="368.1" r="1.15"/><circle cx="96.5" cy="366.7" r="1.15"/><circle cx="94.9" cy="365.9" r="1.15"/><circle cx="94.7" cy="363.7" r="1.15"/><circle cx="92.5" cy="379.7" r="1.15"/><circle cx="101.9" cy="375.5" r="1.15"/><circle cx="101.7" cy="362.5" r="1.15"/><circle cx="105.5" cy="380.5" r="1.15"/><circle cx="102.8" cy="381.4" r="1.15"/><circle cx="95.9" cy="360.9" r="1.15"/><circle cx="105.1" cy="369.7" r="1.15"/><circle cx="90.7" cy="369.2" r="1.15"/><circle cx="97.5" cy="382.4" r="1.15"/><circle cx="100.0" cy="385.8" r="1.15"/><circle cx="92.8" cy="369.2" r="1.15"/><circle cx="103.5" cy="362.7" r="1.15"/><circle cx="96.5" cy="374.6" r="1.15"/><circle cx="95.7" cy="376.3" r="1.15"/><circle cx="93.5" cy="377.1" r="1.15"/><circle cx="104.4" cy="376.5" r="1.15"/><circle cx="101.5" cy="367.8" r="1.15"/><circle cx="97.7" cy="387.2" r="1.15"/><circle cx="100.3" cy="360.6" r="1.15"/></g>
<g fill="#a9d6ca" fill-opacity="1"><circle cx="99.1" cy="323.6" r="1.15"/><circle cx="99.1" cy="350.6" r="1.15"/></g>
<g stroke="#8ccfbf" stroke-width="1.05" fill="none"><line x1="99.1" y1="350.6" x2="99.1" y2="365.9"/><line x1="99.1" y1="378.5" x2="99.1" y2="388.3"/><rect x="88.8" y="365.9" width="20.6" height="12.600000000000023"/><line x1="88.8" y1="372.2" x2="109.39999999999999" y2="372.2" stroke="#62b5a3" stroke-width="1.9"/></g>
<polygon points="125.10,362.00 123.40,365.00 118.40,365.90 115.90,367.70 115.90,377.50 121.40,380.20 123.40,383.80 125.10,387.40 127.10,387.40 128.80,383.80 130.80,380.20 136.30,377.50 136.30,367.70 133.80,365.90 128.80,365.00 127.10,362.00" fill="#f7a9a9" fill-opacity="0.35"/>
<g fill="#f07a7e" fill-opacity="0.3" stroke="#f07a7e" stroke-opacity="0.9" stroke-width="0.6"><circle cx="130.5" cy="379.3" r="1.15"/><circle cx="116.3" cy="374.9" r="1.15"/><circle cx="131.5" cy="369.2" r="1.15"/><circle cx="124.4" cy="383.9" r="1.15"/><circle cx="125.2" cy="375.7" r="1.15"/><circle cx="121.5" cy="371.1" r="1.15"/><circle cx="119.8" cy="377.8" r="1.15"/><circle cx="135.7" cy="371.6" r="1.15"/><circle cx="129.7" cy="372.5" r="1.15"/><circle cx="135.6" cy="374.4" r="1.15"/><circle cx="127.1" cy="383.4" r="1.15"/><circle cx="128.8" cy="365.6" r="1.15"/><circle cx="116.9" cy="369.3" r="1.15"/><circle cx="118.4" cy="366.6" r="1.15"/><circle cx="129.1" cy="375.3" r="1.15"/><circle cx="125.2" cy="379.4" r="1.15"/><circle cx="126.7" cy="370.4" r="1.15"/><circle cx="132.2" cy="374.4" r="1.15"/><circle cx="123.9" cy="369.4" r="1.15"/><circle cx="118.0" cy="372.2" r="1.15"/><circle cx="121.0" cy="368.7" r="1.15"/><circle cx="126.4" cy="367.3" r="1.15"/><circle cx="131.7" cy="365.7" r="1.15"/><circle cx="132.7" cy="372.1" r="1.15"/><circle cx="121.9" cy="374.2" r="1.15"/><circle cx="125.6" cy="387.3" r="1.15"/><circle cx="133.4" cy="366.8" r="1.15"/><circle cx="121.3" cy="376.3" r="1.15"/><circle cx="122.1" cy="379.3" r="1.15"/><circle cx="123.8" cy="365.5" r="1.15"/><circle cx="125.6" cy="363.1" r="1.15"/><circle cx="124.0" cy="372.9" r="1.15"/><circle cx="131.1" cy="375.4" r="1.15"/><circle cx="125.4" cy="382.5" r="1.15"/><circle cx="129.0" cy="380.6" r="1.15"/><circle cx="134.1" cy="372.9" r="1.15"/><circle cx="127.8" cy="379.9" r="1.15"/><circle cx="121.6" cy="377.8" r="1.15"/><circle cx="117.5" cy="377.1" r="1.15"/><circle cx="127.7" cy="374.2" r="1.15"/><circle cx="121.7" cy="367.7" r="1.15"/><circle cx="128.5" cy="377.2" r="1.15"/><circle cx="125.9" cy="364.9" r="1.15"/><circle cx="118.1" cy="370.5" r="1.15"/><circle cx="128.4" cy="367.1" r="1.15"/><circle cx="126.6" cy="379.0" r="1.15"/><circle cx="132.9" cy="377.6" r="1.15"/><circle cx="119.7" cy="375.2" r="1.15"/><circle cx="130.0" cy="370.8" r="1.15"/><circle cx="130.2" cy="377.8" r="1.15"/><circle cx="118.2" cy="373.6" r="1.15"/><circle cx="133.7" cy="376.0" r="1.15"/><circle cx="125.9" cy="373.9" r="1.15"/><circle cx="123.3" cy="381.5" r="1.15"/><circle cx="126.4" cy="381.2" r="1.15"/><circle cx="122.3" cy="369.6" r="1.15"/><circle cx="127.6" cy="375.6" r="1.15"/><circle cx="123.7" cy="375.9" r="1.15"/><circle cx="126.9" cy="386.1" r="1.15"/><circle cx="134.3" cy="369.2" r="1.15"/><circle cx="116.6" cy="371.8" r="1.15"/><circle cx="128.2" cy="370.9" r="1.15"/><circle cx="131.1" cy="372.0" r="1.15"/><circle cx="116.9" cy="373.4" r="1.15"/><circle cx="118.2" cy="374.9" r="1.15"/><circle cx="125.1" cy="371.4" r="1.15"/><circle cx="123.2" cy="367.1" r="1.15"/><circle cx="124.4" cy="382.2" r="1.15"/><circle cx="123.7" cy="378.7" r="1.15"/><circle cx="127.2" cy="364.5" r="1.15"/><circle cx="120.6" cy="374.2" r="1.15"/><circle cx="129.5" cy="373.9" r="1.15"/><circle cx="123.0" cy="378.0" r="1.15"/><circle cx="131.3" cy="367.4" r="1.15"/><circle cx="128.4" cy="369.2" r="1.15"/><circle cx="121.2" cy="373.3" r="1.15"/><circle cx="120.2" cy="376.4" r="1.15"/><circle cx="118.6" cy="377.2" r="1.15"/><circle cx="126.9" cy="373.2" r="1.15"/><circle cx="118.2" cy="368.7" r="1.15"/></g>
<g fill="#f4a0a0" fill-opacity="1"><circle cx="126.6" cy="281.9" r="1.15"/><circle cx="126.1" cy="359.6" r="1.15"/></g>
<g stroke="#ea7b84" stroke-width="1.05" fill="none"><line x1="126.1" y1="359.6" x2="126.1" y2="368.2"/><line x1="126.1" y1="377.5" x2="126.1" y2="387.4"/><rect x="116.5" y="368.2" width="19.2" height="9.300000000000011"/><line x1="116.5" y1="373.6" x2="135.7" y2="373.6" stroke="#df4a55" stroke-width="1.9"/></g>
<path d="M72.4,289.8 V285.6 H126.6 V289.8" stroke="#4a4a4a" stroke-width="1" fill="none"/>
<g fill="#333"><circle cx="95.75" cy="282.00" r="1.15"/><circle cx="99.50" cy="282.00" r="1.15"/><circle cx="103.25" cy="282.00" r="1.15"/></g>
<rect x="181" y="236.6" width="86.5" height="11.200000000000017" fill="#d9d9d9"/>
<text x="224.25" y="244.60" font-size="9.6" text-anchor="middle" fill="#333333" font-weight="normal" stroke="#333333" stroke-width="0.1" textLength="22.3" lengthAdjust="spacingAndGlyphs">SBS5</text>
<line x1="181.50" y1="247.80" x2="181.50" y2="395.45" stroke="#262626" stroke-width="1.3"/>
<line x1="180.85" y1="394.80" x2="267.50" y2="394.80" stroke="#262626" stroke-width="1.3"/>
<line x1="178.50" y1="285.50" x2="181.50" y2="285.50" stroke="#2f2f2f" stroke-width="1"/>
<text transform="translate(175.60,287.95) scale(0.89,1)" font-size="8.8" text-anchor="end" fill="#333333" font-weight="normal" stroke="#333333" stroke-width="0.1" >20000</text>
<line x1="178.50" y1="336.95" x2="181.50" y2="336.95" stroke="#2f2f2f" stroke-width="1"/>
<text transform="translate(175.60,339.40) scale(0.89,1)" font-size="8.8" text-anchor="end" fill="#333333" font-weight="normal" stroke="#333333" stroke-width="0.1" >10000</text>
<line x1="178.50" y1="388.40" x2="181.50" y2="388.40" stroke="#2f2f2f" stroke-width="1"/>
<text transform="translate(175.60,390.85) scale(0.89,1)" font-size="8.8" text-anchor="end" fill="#333333" font-weight="normal" stroke="#333333" stroke-width="0.1" >0</text>
<line x1="197.20" y1="394.80" x2="197.20" y2="397.80" stroke="#2f2f2f" stroke-width="1"/>
<text transform="translate(197.20,408.40) scale(0.92,1)" font-size="8.6" text-anchor="middle" fill="#333333" font-weight="normal" stroke="#333333" stroke-width="0.1" >DLBCL</text>
<line x1="224.10" y1="394.80" x2="224.10" y2="397.80" stroke="#2f2f2f" stroke-width="1"/>
<text transform="translate(224.10,408.40) scale(0.92,1)" font-size="8.6" text-anchor="middle" fill="#333333" font-weight="normal" stroke="#333333" stroke-width="0.1" >dFL</text>
<line x1="251.10" y1="394.80" x2="251.10" y2="397.80" stroke="#2f2f2f" stroke-width="1"/>
<text transform="translate(251.10,408.40) scale(0.92,1)" font-size="8.6" text-anchor="middle" fill="#333333" font-weight="normal" stroke="#333333" stroke-width="0.1" >cFL</text>
<g fill="#4aa874" fill-opacity="1"><circle cx="197.3" cy="298.7" r="1.15"/><circle cx="197.3" cy="305.6" r="1.15"/><circle cx="197.3" cy="310.8" r="1.15"/><circle cx="197.3" cy="314.3" r="1.15"/><circle cx="197.3" cy="319.5" r="1.15"/><circle cx="197.3" cy="324.8" r="1.15"/><circle cx="197.3" cy="328.2" r="1.15"/></g>
<g fill="#2aa664" fill-opacity="0.45" stroke="#2aa664" stroke-opacity="0.95" stroke-width="0.6"><circle cx="196.8" cy="339.6" r="1.15"/><circle cx="200.4" cy="356.9" r="1.15"/><circle cx="197.9" cy="349.4" r="1.15"/><circle cx="197.0" cy="331.9" r="1.15"/><circle cx="196.6" cy="344.0" r="1.15"/><circle cx="200.0" cy="352.7" r="1.15"/><circle cx="197.5" cy="335.5" r="1.15"/><circle cx="194.8" cy="348.0" r="1.15"/><circle cx="196.1" cy="354.4" r="1.15"/><circle cx="199.5" cy="347.7" r="1.15"/><circle cx="198.7" cy="356.2" r="1.15"/><circle cx="194.7" cy="356.7" r="1.15"/><circle cx="198.3" cy="342.3" r="1.15"/><circle cx="196.0" cy="351.1" r="1.15"/><circle cx="192.7" cy="355.7" r="1.15"/><circle cx="196.8" cy="356.6" r="1.15"/><circle cx="196.8" cy="352.4" r="1.15"/><circle cx="202.5" cy="356.2" r="1.15"/><circle cx="197.9" cy="337.6" r="1.15"/><circle cx="200.1" cy="354.6" r="1.15"/><circle cx="198.3" cy="351.1" r="1.15"/><circle cx="197.9" cy="347.4" r="1.15"/><circle cx="197.6" cy="341.4" r="1.15"/><circle cx="195.6" cy="353.3" r="1.15"/></g>
<polygon points="191.70,357.00 190.70,359.00 190.70,362.40 188.70,363.80 188.70,367.20 185.70,368.00 185.70,376.00 187.70,377.00 187.70,381.60 190.70,382.00 190.70,384.30 193.70,385.00 195.70,388.40 199.10,388.40 201.10,385.00 204.10,384.30 204.10,382.00 207.10,381.60 207.10,377.00 209.10,376.00 209.10,368.00 206.10,367.20 206.10,363.80 204.10,362.40 204.10,359.00 203.10,357.00" fill="#6cc89a" fill-opacity="0.4"/>
<g fill="#2aa664" fill-opacity="0.3" stroke="#2aa664" stroke-opacity="0.9" stroke-width="0.6"><circle cx="199.4" cy="378.3" r="1.15"/><circle cx="188.6" cy="370.6" r="1.15"/><circle cx="196.9" cy="367.1" r="1.15"/><circle cx="191.6" cy="378.4" r="1.15"/><circle cx="193.9" cy="357.7" r="1.15"/><circle cx="206.1" cy="368.9" r="1.15"/><circle cx="201.1" cy="373.5" r="1.15"/><circle cx="204.7" cy="377.7" r="1.15"/><circle cx="197.0" cy="385.7" r="1.15"/><circle cx="196.8" cy="373.5" r="1.15"/><circle cx="200.7" cy="359.8" r="1.15"/><circle cx="191.2" cy="382.6" r="1.15"/><circle cx="186.8" cy="373.6" r="1.15"/><circle cx="200.8" cy="384.5" r="1.15"/><circle cx="201.7" cy="368.3" r="1.15"/><circle cx="195.8" cy="380.9" r="1.15"/><circle cx="205.0" cy="374.4" r="1.15"/><circle cx="192.0" cy="367.7" r="1.15"/><circle cx="192.4" cy="375.5" r="1.15"/><circle cx="202.0" cy="381.6" r="1.15"/><circle cx="191.9" cy="361.7" r="1.15"/><circle cx="192.2" cy="371.5" r="1.15"/><circle cx="189.1" cy="375.2" r="1.15"/><circle cx="196.2" cy="360.0" r="1.15"/><circle cx="189.8" cy="364.1" r="1.15"/><circle cx="203.2" cy="376.6" r="1.15"/><circle cx="189.2" cy="367.0" r="1.15"/><circle cx="197.1" cy="369.6" r="1.15"/><circle cx="189.1" cy="381.0" r="1.15"/><circle cx="197.8" cy="363.7" r="1.15"/><circle cx="204.4" cy="370.8" r="1.15"/><circle cx="194.4" cy="361.3" r="1.15"/><circle cx="203.0" cy="360.1" r="1.15"/><circle cx="198.3" cy="383.4" r="1.15"/><circle cx="194.4" cy="374.1" r="1.15"/><circle cx="207.8" cy="370.6" r="1.15"/><circle cx="196.9" cy="377.0" r="1.15"/><circle cx="206.9" cy="374.7" r="1.15"/><circle cx="194.4" cy="369.0" r="1.15"/><circle cx="202.4" cy="357.1" r="1.15"/><circle cx="199.8" cy="363.2" r="1.15"/><circle cx="199.3" cy="386.5" r="1.15"/><circle cx="193.9" cy="377.7" r="1.15"/><circle cx="190.9" cy="373.6" r="1.15"/><circle cx="202.9" cy="384.0" r="1.15"/><circle cx="204.0" cy="373.1" r="1.15"/><circle cx="208.6" cy="372.6" r="1.15"/><circle cx="187.2" cy="368.2" r="1.15"/><circle cx="196.4" cy="362.5" r="1.15"/><circle cx="204.0" cy="380.5" r="1.15"/><circle cx="194.4" cy="381.7" r="1.15"/><circle cx="205.9" cy="379.2" r="1.15"/><circle cx="186.5" cy="375.9" r="1.15"/><circle cx="195.3" cy="378.3" r="1.15"/><circle cx="201.3" cy="366.8" r="1.15"/><circle cx="202.1" cy="364.4" r="1.15"/><circle cx="195.9" cy="382.6" r="1.15"/><circle cx="193.7" cy="384.2" r="1.15"/><circle cx="189.1" cy="376.8" r="1.15"/><circle cx="199.5" cy="381.3" r="1.15"/><circle cx="199.3" cy="367.4" r="1.15"/><circle cx="198.0" cy="357.6" r="1.15"/><circle cx="201.3" cy="377.8" r="1.15"/><circle cx="194.7" cy="376.0" r="1.15"/><circle cx="195.4" cy="366.7" r="1.15"/><circle cx="193.1" cy="365.7" r="1.15"/><circle cx="199.5" cy="371.5" r="1.15"/><circle cx="196.8" cy="378.6" r="1.15"/><circle cx="207.4" cy="368.5" r="1.15"/><circle cx="207.2" cy="372.5" r="1.15"/><circle cx="195.6" cy="387.1" r="1.15"/><circle cx="197.6" cy="372.2" r="1.15"/><circle cx="189.9" cy="380.1" r="1.15"/><circle cx="202.4" cy="374.5" r="1.15"/><circle cx="196.7" cy="365.0" r="1.15"/><circle cx="207.3" cy="376.1" r="1.15"/><circle cx="199.8" cy="373.8" r="1.15"/><circle cx="196.6" cy="371.1" r="1.15"/><circle cx="197.4" cy="361.4" r="1.15"/><circle cx="201.3" cy="365.4" r="1.15"/><circle cx="198.4" cy="388.3" r="1.15"/><circle cx="193.4" cy="363.7" r="1.15"/><circle cx="191.1" cy="362.9" r="1.15"/><circle cx="199.5" cy="370.2" r="1.15"/><circle cx="192.2" cy="380.8" r="1.15"/><circle cx="204.8" cy="365.8" r="1.15"/><circle cx="203.2" cy="379.0" r="1.15"/><circle cx="206.3" cy="370.4" r="1.15"/><circle cx="192.2" cy="358.9" r="1.15"/><circle cx="205.2" cy="376.1" r="1.15"/><circle cx="197.8" cy="369.0" r="1.15"/><circle cx="203.4" cy="367.4" r="1.15"/><circle cx="195.5" cy="372.4" r="1.15"/><circle cx="202.5" cy="362.3" r="1.15"/><circle cx="190.3" cy="372.0" r="1.15"/><circle cx="202.4" cy="358.7" r="1.15"/><circle cx="203.8" cy="364.1" r="1.15"/><circle cx="201.4" cy="371.2" r="1.15"/><circle cx="198.8" cy="384.7" r="1.15"/><circle cx="190.1" cy="369.1" r="1.15"/><circle cx="195.9" cy="374.0" r="1.15"/><circle cx="203.1" cy="369.3" r="1.15"/><circle cx="201.8" cy="380.3" r="1.15"/><circle cx="197.3" cy="381.0" r="1.15"/><circle cx="191.8" cy="364.8" r="1.15"/><circle cx="186.9" cy="370.4" r="1.15"/><circle cx="189.4" cy="378.6" r="1.15"/><circle cx="199.4" cy="360.6" r="1.15"/><circle cx="197.0" cy="358.5" r="1.15"/><circle cx="187.6" cy="372.7" r="1.15"/><circle cx="195.3" cy="364.3" r="1.15"/><circle cx="200.5" cy="379.5" r="1.15"/><circle cx="192.3" cy="362.9" r="1.15"/><circle cx="199.0" cy="359.4" r="1.15"/><circle cx="186.4" cy="369.3" r="1.15"/><circle cx="196.3" cy="377.8" r="1.15"/><circle cx="194.0" cy="367.6" r="1.15"/><circle cx="201.2" cy="369.6" r="1.15"/><circle cx="202.8" cy="368.4" r="1.15"/><circle cx="196.7" cy="357.3" r="1.15"/><circle cx="198.2" cy="378.4" r="1.15"/><circle cx="200.6" cy="375.9" r="1.15"/><circle cx="189.4" cy="372.7" r="1.15"/><circle cx="201.1" cy="362.8" r="1.15"/><circle cx="187.6" cy="376.6" r="1.15"/><circle cx="190.9" cy="367.2" r="1.15"/><circle cx="195.9" cy="384.0" r="1.15"/><circle cx="192.2" cy="357.3" r="1.15"/><circle cx="198.3" cy="382.2" r="1.15"/><circle cx="191.4" cy="370.9" r="1.15"/><circle cx="206.2" cy="375.6" r="1.15"/><circle cx="193.7" cy="378.9" r="1.15"/><circle cx="205.6" cy="363.9" r="1.15"/><circle cx="191.0" cy="376.2" r="1.15"/><circle cx="199.4" cy="374.7" r="1.15"/><circle cx="200.9" cy="364.0" r="1.15"/><circle cx="205.4" cy="381.2" r="1.15"/><circle cx="204.6" cy="369.6" r="1.15"/><circle cx="192.2" cy="369.2" r="1.15"/><circle cx="193.2" cy="381.6" r="1.15"/><circle cx="200.9" cy="359.0" r="1.15"/><circle cx="187.1" cy="375.2" r="1.15"/><circle cx="193.2" cy="362.3" r="1.15"/><circle cx="202.7" cy="370.7" r="1.15"/><circle cx="197.9" cy="370.5" r="1.15"/><circle cx="193.3" cy="370.5" r="1.15"/><circle cx="198.7" cy="369.4" r="1.15"/><circle cx="198.3" cy="366.0" r="1.15"/><circle cx="200.8" cy="368.2" r="1.15"/><circle cx="201.2" cy="382.3" r="1.15"/><circle cx="200.1" cy="372.7" r="1.15"/><circle cx="190.6" cy="377.4" r="1.15"/><circle cx="195.0" cy="358.6" r="1.15"/><circle cx="199.5" cy="364.8" r="1.15"/><circle cx="191.1" cy="381.5" r="1.15"/><circle cx="198.9" cy="379.4" r="1.15"/><circle cx="194.4" cy="370.4" r="1.15"/><circle cx="205.8" cy="372.7" r="1.15"/><circle cx="192.4" cy="360.4" r="1.15"/><circle cx="195.3" cy="371.0" r="1.15"/><circle cx="192.4" cy="382.8" r="1.15"/><circle cx="199.7" cy="375.7" r="1.15"/><circle cx="201.1" cy="357.2" r="1.15"/><circle cx="194.6" cy="382.9" r="1.15"/><circle cx="192.7" cy="379.1" r="1.15"/><circle cx="201.1" cy="360.9" r="1.15"/><circle cx="203.4" cy="374.4" r="1.15"/><circle cx="197.2" cy="384.1" r="1.15"/><circle cx="195.5" cy="362.1" r="1.15"/><circle cx="203.1" cy="382.8" r="1.15"/><circle cx="200.3" cy="370.0" r="1.15"/><circle cx="191.9" cy="366.1" r="1.15"/><circle cx="196.7" cy="386.9" r="1.15"/><circle cx="202.8" cy="371.6" r="1.15"/><circle cx="193.7" cy="365.1" r="1.15"/><circle cx="190.2" cy="368.3" r="1.15"/><circle cx="198.5" cy="362.2" r="1.15"/><circle cx="202.3" cy="373.7" r="1.15"/><circle cx="190.7" cy="378.0" r="1.15"/><circle cx="196.7" cy="374.5" r="1.15"/><circle cx="189.5" cy="376.0" r="1.15"/><circle cx="196.5" cy="360.6" r="1.15"/><circle cx="204.0" cy="381.5" r="1.15"/><circle cx="197.5" cy="384.9" r="1.15"/><circle cx="199.0" cy="372.1" r="1.15"/></g>
<g fill="#9aa49e" fill-opacity="1"><circle cx="197.3" cy="260.7" r="1.25"/></g>
<g fill="#8fb8a0" fill-opacity="1"><circle cx="197.2" cy="274.6" r="1.15"/></g>
<g fill="#3f9a68" fill-opacity="1"><circle cx="197.2" cy="283.0" r="1.15"/><circle cx="197.2" cy="288.2" r="1.15"/></g>
<g stroke="#16803f" stroke-width="1.05" fill="none"><line x1="197.4" y1="320" x2="197.4" y2="357.2"/><line x1="197.4" y1="380.2" x2="197.4" y2="388"/><rect x="186.9" y="357.2" width="21.0" height="23.0"/><line x1="186.9" y1="371.2" x2="207.9" y2="371.2" stroke="#137a3d" stroke-width="1.9"/></g>
<polygon points="221.90,360.40 221.40,366.70 219.40,368.50 214.40,371.20 214.40,381.10 218.40,382.90 220.40,385.60 222.40,388.30 225.80,388.30 227.80,385.60 229.80,382.90 233.80,381.10 233.80,371.20 228.80,368.50 226.80,366.70 226.30,360.40" fill="#b4e2d6" fill-opacity="0.3"/>
<g fill="#86cfbd" fill-opacity="0.3" stroke="#86cfbd" stroke-opacity="0.9" stroke-width="0.6"><circle cx="218.5" cy="373.5" r="1.15"/><circle cx="233.2" cy="375.1" r="1.15"/><circle cx="224.2" cy="365.8" r="1.15"/><circle cx="224.5" cy="381.8" r="1.15"/><circle cx="227.5" cy="371.1" r="1.15"/><circle cx="231.1" cy="381.9" r="1.15"/><circle cx="223.2" cy="376.1" r="1.15"/><circle cx="217.1" cy="379.7" r="1.15"/><circle cx="222.0" cy="369.4" r="1.15"/><circle cx="227.1" cy="376.6" r="1.15"/><circle cx="225.5" cy="373.7" r="1.15"/><circle cx="221.1" cy="379.4" r="1.15"/><circle cx="224.1" cy="370.1" r="1.15"/><circle cx="222.4" cy="385.5" r="1.15"/><circle cx="220.1" cy="382.8" r="1.15"/><circle cx="215.8" cy="376.1" r="1.15"/><circle cx="230.2" cy="379.5" r="1.15"/><circle cx="226.0" cy="363.5" r="1.15"/><circle cx="215.7" cy="371.2" r="1.15"/><circle cx="229.5" cy="374.4" r="1.15"/><circle cx="218.4" cy="369.6" r="1.15"/><circle cx="223.5" cy="362.2" r="1.15"/><circle cx="227.7" cy="380.7" r="1.15"/><circle cx="232.0" cy="377.5" r="1.15"/><circle cx="223.9" cy="388.1" r="1.15"/><circle cx="225.2" cy="377.9" r="1.15"/><circle cx="229.4" cy="378.9" r="1.15"/><circle cx="230.0" cy="376.4" r="1.15"/><circle cx="224.5" cy="361.1" r="1.15"/><circle cx="218.6" cy="376.8" r="1.15"/><circle cx="226.0" cy="368.3" r="1.15"/><circle cx="216.9" cy="381.8" r="1.15"/><circle cx="227.2" cy="384.1" r="1.15"/><circle cx="222.9" cy="379.0" r="1.15"/><circle cx="229.8" cy="371.8" r="1.15"/><circle cx="221.9" cy="372.9" r="1.15"/><circle cx="232.3" cy="371.5" r="1.15"/><circle cx="226.2" cy="379.2" r="1.15"/><circle cx="222.9" cy="367.6" r="1.15"/><circle cx="218.9" cy="379.0" r="1.15"/><circle cx="224.8" cy="383.7" r="1.15"/><circle cx="223.6" cy="374.4" r="1.15"/><circle cx="221.3" cy="367.7" r="1.15"/><circle cx="224.3" cy="380.3" r="1.15"/><circle cx="225.2" cy="372.0" r="1.15"/><circle cx="225.4" cy="385.0" r="1.15"/><circle cx="217.0" cy="378.5" r="1.15"/><circle cx="222.1" cy="382.2" r="1.15"/><circle cx="231.2" cy="374.4" r="1.15"/><circle cx="226.1" cy="367.2" r="1.15"/><circle cx="220.5" cy="374.1" r="1.15"/><circle cx="221.9" cy="365.9" r="1.15"/><circle cx="232.6" cy="378.9" r="1.15"/><circle cx="219.9" cy="372.0" r="1.15"/><circle cx="221.0" cy="370.9" r="1.15"/><circle cx="221.0" cy="376.9" r="1.15"/><circle cx="225.4" cy="387.8" r="1.15"/><circle cx="228.7" cy="368.9" r="1.15"/><circle cx="216.8" cy="374.8" r="1.15"/><circle cx="214.8" cy="380.5" r="1.15"/><circle cx="228.6" cy="382.4" r="1.15"/><circle cx="220.6" cy="384.9" r="1.15"/><circle cx="225.2" cy="376.4" r="1.15"/><circle cx="218.2" cy="371.4" r="1.15"/><circle cx="218.5" cy="378.2" r="1.15"/><circle cx="228.6" cy="376.2" r="1.15"/><circle cx="226.6" cy="382.2" r="1.15"/><circle cx="217.0" cy="370.2" r="1.15"/><circle cx="223.1" cy="383.9" r="1.15"/><circle cx="228.5" cy="371.9" r="1.15"/><circle cx="219.8" cy="376.3" r="1.15"/><circle cx="226.2" cy="375.4" r="1.15"/><circle cx="225.9" cy="361.2" r="1.15"/><circle cx="232.1" cy="376.2" r="1.15"/><circle cx="224.7" cy="374.8" r="1.15"/><circle cx="218.0" cy="380.8" r="1.15"/><circle cx="223.3" cy="386.4" r="1.15"/><circle cx="225.1" cy="370.9" r="1.15"/><circle cx="224.6" cy="375.7" r="1.15"/><circle cx="219.9" cy="381.3" r="1.15"/><circle cx="230.7" cy="377.9" r="1.15"/><circle cx="222.7" cy="388.1" r="1.15"/><circle cx="222.8" cy="370.5" r="1.15"/><circle cx="224.7" cy="362.1" r="1.15"/><circle cx="221.5" cy="381.7" r="1.15"/></g>
<g fill="#c7dcd6" fill-opacity="1"><circle cx="224.2" cy="343.4" r="1.15"/></g>
<g stroke="#8ccfbf" stroke-width="1.05" fill="none"><line x1="224.1" y1="360.4" x2="224.1" y2="372.1"/><line x1="224.1" y1="381.1" x2="224.1" y2="388.8"/><rect x="213.7" y="372.1" width="20.8" height="9.0"/><line x1="213.7" y1="376" x2="234.5" y2="376" stroke="#62b5a3" stroke-width="1.9"/></g>
<polygon points="250.30,361.30 249.80,366.70 247.80,368.50 244.80,371.20 240.80,373.00 240.80,380.20 245.80,382.00 248.80,384.70 250.50,386.00 252.50,386.00 254.20,384.70 257.20,382.00 262.20,380.20 262.20,373.00 258.20,371.20 255.20,368.50 253.20,366.70 252.70,361.30" fill="#f7a9a9" fill-opacity="0.35"/>
<g fill="#f07a7e" fill-opacity="0.3" stroke="#f07a7e" stroke-opacity="0.9" stroke-width="0.6"><circle cx="254.4" cy="378.6" r="1.15"/><circle cx="251.3" cy="368.0" r="1.15"/><circle cx="247.1" cy="382.7" r="1.15"/><circle cx="246.0" cy="376.0" r="1.15"/><circle cx="251.3" cy="383.9" r="1.15"/><circle cx="249.5" cy="372.6" r="1.15"/><circle cx="257.8" cy="376.3" r="1.15"/><circle cx="261.7" cy="378.8" r="1.15"/><circle cx="257.6" cy="371.1" r="1.15"/><circle cx="254.1" cy="372.7" r="1.15"/><circle cx="244.2" cy="379.4" r="1.15"/><circle cx="252.4" cy="363.3" r="1.15"/><circle cx="255.2" cy="381.3" r="1.15"/><circle cx="248.4" cy="379.4" r="1.15"/><circle cx="244.9" cy="373.3" r="1.15"/><circle cx="251.7" cy="378.3" r="1.15"/><circle cx="259.2" cy="379.9" r="1.15"/><circle cx="261.8" cy="373.8" r="1.15"/><circle cx="246.1" cy="380.4" r="1.15"/><circle cx="259.8" cy="376.7" r="1.15"/><circle cx="253.3" cy="369.5" r="1.15"/><circle cx="253.9" cy="383.7" r="1.15"/><circle cx="242.7" cy="376.4" r="1.15"/><circle cx="252.8" cy="381.3" r="1.15"/><circle cx="255.0" cy="375.6" r="1.15"/><circle cx="249.2" cy="377.0" r="1.15"/><circle cx="249.7" cy="379.3" r="1.15"/><circle cx="252.3" cy="375.7" r="1.15"/><circle cx="247.0" cy="372.5" r="1.15"/><circle cx="252.4" cy="367.8" r="1.15"/><circle cx="250.7" cy="362.3" r="1.15"/><circle cx="257.3" cy="380.9" r="1.15"/><circle cx="242.7" cy="372.4" r="1.15"/><circle cx="242.0" cy="374.4" r="1.15"/><circle cx="248.4" cy="373.4" r="1.15"/><circle cx="250.8" cy="365.2" r="1.15"/><circle cx="250.6" cy="377.2" r="1.15"/><circle cx="247.1" cy="377.4" r="1.15"/><circle cx="244.4" cy="375.4" r="1.15"/><circle cx="255.8" cy="373.0" r="1.15"/><circle cx="251.6" cy="382.3" r="1.15"/><circle cx="258.9" cy="374.0" r="1.15"/><circle cx="252.0" cy="372.1" r="1.15"/><circle cx="250.8" cy="370.7" r="1.15"/><circle cx="247.9" cy="369.8" r="1.15"/><circle cx="249.0" cy="368.6" r="1.15"/><circle cx="256.0" cy="378.8" r="1.15"/><circle cx="251.8" cy="369.5" r="1.15"/><circle cx="243.4" cy="373.7" r="1.15"/><circle cx="244.9" cy="381.0" r="1.15"/><circle cx="250.8" cy="373.5" r="1.15"/><circle cx="248.9" cy="382.8" r="1.15"/><circle cx="248.6" cy="375.4" r="1.15"/><circle cx="247.5" cy="375.9" r="1.15"/><circle cx="254.9" cy="377.2" r="1.15"/><circle cx="259.6" cy="378.1" r="1.15"/><circle cx="245.4" cy="371.7" r="1.15"/><circle cx="260.1" cy="372.3" r="1.15"/><circle cx="255.3" cy="371.3" r="1.15"/><circle cx="251.0" cy="385.5" r="1.15"/><circle cx="244.8" cy="379.9" r="1.15"/><circle cx="249.0" cy="384.2" r="1.15"/><circle cx="245.9" cy="378.2" r="1.15"/><circle cx="257.4" cy="374.1" r="1.15"/><circle cx="241.2" cy="377.4" r="1.15"/><circle cx="254.9" cy="369.0" r="1.15"/><circle cx="248.8" cy="381.1" r="1.15"/><circle cx="258.6" cy="372.5" r="1.15"/><circle cx="256.0" cy="376.7" r="1.15"/><circle cx="253.3" cy="371.2" r="1.15"/><circle cx="256.4" cy="382.0" r="1.15"/><circle cx="242.4" cy="379.1" r="1.15"/><circle cx="258.2" cy="378.6" r="1.15"/><circle cx="243.8" cy="377.8" r="1.15"/><circle cx="249.9" cy="367.8" r="1.15"/><circle cx="261.6" cy="375.1" r="1.15"/><circle cx="256.5" cy="375.5" r="1.15"/><circle cx="242.9" cy="374.8" r="1.15"/><circle cx="248.2" cy="370.9" r="1.15"/><circle cx="250.5" cy="363.7" r="1.15"/></g>
<g fill="#f4b0b0" fill-opacity="1"><circle cx="251.6" cy="266.7" r="1.15"/></g>
<g stroke="#ea7b84" stroke-width="1.05" fill="none"><line x1="251.5" y1="361.3" x2="251.5" y2="374.8"/><line x1="251.5" y1="382" x2="251.5" y2="385.6"/><rect x="240.8" y="374.8" width="21.4" height="7.199999999999989"/><line x1="240.8" y1="378" x2="262.2" y2="378" stroke="#df4a55" stroke-width="1.9"/></g>
<path d="M197.4,287.3 V283.1 H251.6 V287.3" stroke="#4a4a4a" stroke-width="1" fill="none"/>
<g fill="#333"><circle cx="218.88" cy="279.50" r="1.15"/><circle cx="222.62" cy="279.50" r="1.15"/><circle cx="226.38" cy="279.50" r="1.15"/><circle cx="230.12" cy="279.50" r="1.15"/></g>
<path d="M197.4,299.1 V295.3 H224.5 V299.1" stroke="#4a4a4a" stroke-width="1" fill="none"/>
<g fill="#333"><circle cx="205.32" cy="291.20" r="1.15"/><circle cx="209.07" cy="291.20" r="1.15"/><circle cx="212.82" cy="291.20" r="1.15"/><circle cx="216.57" cy="291.20" r="1.15"/></g>
<rect x="302" y="236.6" width="86" height="11.200000000000017" fill="#d9d9d9"/>
<text x="345.00" y="244.60" font-size="9.6" text-anchor="middle" fill="#333333" font-weight="normal" stroke="#333333" stroke-width="0.1" textLength="22.3" lengthAdjust="spacingAndGlyphs">SBS8</text>
<line x1="301.90" y1="247.80" x2="301.90" y2="395.45" stroke="#262626" stroke-width="1.3"/>
<line x1="301.25" y1="394.80" x2="388.00" y2="394.80" stroke="#262626" stroke-width="1.3"/>
<line x1="298.90" y1="250.20" x2="301.90" y2="250.20" stroke="#2f2f2f" stroke-width="1"/>
<text transform="translate(296.00,252.65) scale(0.89,1)" font-size="8.8" text-anchor="end" fill="#333333" font-weight="normal" stroke="#333333" stroke-width="0.1" >5000</text>
<line x1="298.90" y1="277.80" x2="301.90" y2="277.80" stroke="#2f2f2f" stroke-width="1"/>
<text transform="translate(296.00,280.25) scale(0.89,1)" font-size="8.8" text-anchor="end" fill="#333333" font-weight="normal" stroke="#333333" stroke-width="0.1" >4000</text>
<line x1="298.90" y1="305.50" x2="301.90" y2="305.50" stroke="#2f2f2f" stroke-width="1"/>
<text transform="translate(296.00,307.95) scale(0.89,1)" font-size="8.8" text-anchor="end" fill="#333333" font-weight="normal" stroke="#333333" stroke-width="0.1" >3000</text>
<line x1="298.90" y1="333.10" x2="301.90" y2="333.10" stroke="#2f2f2f" stroke-width="1"/>
<text transform="translate(296.00,335.55) scale(0.89,1)" font-size="8.8" text-anchor="end" fill="#333333" font-weight="normal" stroke="#333333" stroke-width="0.1" >2000</text>
<line x1="298.90" y1="360.80" x2="301.90" y2="360.80" stroke="#2f2f2f" stroke-width="1"/>
<text transform="translate(296.00,363.25) scale(0.89,1)" font-size="8.8" text-anchor="end" fill="#333333" font-weight="normal" stroke="#333333" stroke-width="0.1" >1000</text>
<line x1="298.90" y1="388.40" x2="301.90" y2="388.40" stroke="#2f2f2f" stroke-width="1"/>
<text transform="translate(296.00,390.85) scale(0.89,1)" font-size="8.8" text-anchor="end" fill="#333333" font-weight="normal" stroke="#333333" stroke-width="0.1" >0</text>
<line x1="317.90" y1="394.80" x2="317.90" y2="397.80" stroke="#2f2f2f" stroke-width="1"/>
<text transform="translate(317.90,408.40) scale(0.92,1)" font-size="8.6" text-anchor="middle" fill="#333333" font-weight="normal" stroke="#333333" stroke-width="0.1" >DLBCL</text>
<line x1="344.90" y1="394.80" x2="344.90" y2="397.80" stroke="#2f2f2f" stroke-width="1"/>
<text transform="translate(344.90,408.40) scale(0.92,1)" font-size="8.6" text-anchor="middle" fill="#333333" font-weight="normal" stroke="#333333" stroke-width="0.1" >dFL</text>
<line x1="371.80" y1="394.80" x2="371.80" y2="397.80" stroke="#2f2f2f" stroke-width="1"/>
<text transform="translate(371.80,408.40) scale(0.92,1)" font-size="8.6" text-anchor="middle" fill="#333333" font-weight="normal" stroke="#333333" stroke-width="0.1" >cFL</text>
<g fill="#7fae95" fill-opacity="1"><circle cx="317.5" cy="275.7" r="1.1"/><circle cx="317.5" cy="279.8" r="1.1"/><circle cx="317.5" cy="285.1" r="1.1"/><circle cx="317.6" cy="288.7" r="1.1"/></g>
<g fill="#16803f" fill-opacity="0.7" stroke="#16803f" stroke-opacity="1" stroke-width="0.6"><circle cx="317.5" cy="296.0" r="1.1"/><circle cx="317.4" cy="304.7" r="1.1"/><circle cx="318.0" cy="300.9" r="1.1"/><circle cx="317.3" cy="299.2" r="1.1"/><circle cx="318.3" cy="303.7" r="1.1"/><circle cx="317.8" cy="294.5" r="1.1"/><circle cx="317.4" cy="300.4" r="1.1"/><circle cx="317.3" cy="305.9" r="1.1"/><circle cx="318.2" cy="299.8" r="1.1"/><circle cx="317.9" cy="297.3" r="1.1"/></g>
<g fill="#2aa664" fill-opacity="0.6" stroke="#2aa664" stroke-opacity="1" stroke-width="0.6"><circle cx="318.0" cy="308.0" r="1.1"/><circle cx="317.8" cy="316.2" r="1.1"/><circle cx="318.1" cy="311.5" r="1.1"/></g>
<g fill="#16803f" fill-opacity="0.85" stroke="#16803f" stroke-opacity="1" stroke-width="0.6"><circle cx="316.7" cy="342.3" r="1.2"/><circle cx="316.9" cy="318.8" r="1.2"/><circle cx="316.7" cy="329.1" r="1.2"/><circle cx="318.0" cy="336.5" r="1.2"/><circle cx="317.4" cy="323.8" r="1.2"/><circle cx="317.4" cy="334.7" r="1.2"/><circle cx="317.0" cy="344.4" r="1.2"/><circle cx="317.6" cy="325.9" r="1.2"/><circle cx="318.5" cy="341.4" r="1.2"/><circle cx="318.6" cy="317.7" r="1.2"/><circle cx="318.2" cy="320.7" r="1.2"/><circle cx="318.6" cy="323.9" r="1.2"/><circle cx="316.5" cy="339.2" r="1.2"/><circle cx="317.7" cy="330.9" r="1.2"/><circle cx="318.6" cy="344.7" r="1.2"/><circle cx="318.6" cy="319.1" r="1.2"/><circle cx="317.5" cy="337.7" r="1.2"/><circle cx="317.1" cy="321.9" r="1.2"/><circle cx="316.8" cy="334.0" r="1.2"/><circle cx="317.1" cy="335.8" r="1.2"/><circle cx="318.2" cy="330.5" r="1.2"/><circle cx="318.3" cy="343.3" r="1.2"/><circle cx="318.1" cy="327.6" r="1.2"/><circle cx="318.6" cy="331.8" r="1.2"/><circle cx="316.8" cy="320.2" r="1.2"/><circle cx="317.2" cy="339.7" r="1.2"/><circle cx="316.5" cy="318.1" r="1.2"/><circle cx="317.4" cy="332.9" r="1.2"/><circle cx="316.5" cy="337.0" r="1.2"/><circle cx="316.6" cy="326.3" r="1.2"/></g>
<g fill="#16803f" fill-opacity="0.75" stroke="#16803f" stroke-opacity="1" stroke-width="0.6"><circle cx="317.5" cy="353.1" r="1.2"/><circle cx="317.2" cy="364.6" r="1.2"/><circle cx="316.2" cy="347.0" r="1.2"/><circle cx="316.5" cy="359.6" r="1.2"/><circle cx="317.9" cy="350.6" r="1.2"/><circle cx="316.6" cy="356.5" r="1.2"/><circle cx="316.6" cy="361.8" r="1.2"/><circle cx="318.0" cy="359.5" r="1.2"/><circle cx="319.1" cy="355.0" r="1.2"/><circle cx="318.6" cy="362.4" r="1.2"/><circle cx="316.5" cy="348.8" r="1.2"/><circle cx="316.8" cy="355.1" r="1.2"/><circle cx="318.8" cy="349.3" r="1.2"/><circle cx="317.4" cy="360.7" r="1.2"/><circle cx="318.5" cy="357.3" r="1.2"/><circle cx="316.7" cy="357.8" r="1.2"/><circle cx="317.9" cy="347.9" r="1.2"/><circle cx="318.8" cy="347.3" r="1.2"/></g>
<g fill="#2aa664" fill-opacity="0.6" stroke="#2aa664" stroke-opacity="1" stroke-width="0.6"><circle cx="317.5" cy="367.6" r="1.1"/><circle cx="317.5" cy="374.0" r="1.1"/><circle cx="317.3" cy="371.0" r="1.1"/></g>
<g stroke="#16803f" stroke-width="0.85" fill="none"><line x1="317.6" y1="348.7" x2="317.6" y2="348.7"/><line x1="317.6" y1="388" x2="317.6" y2="388"/><rect x="307.3" y="348.7" width="20.6" height="39.30000000000001"/><line x1="307.3" y1="388" x2="327.90000000000003" y2="388" stroke="#137a3d" stroke-width="1.9"/></g>
<rect x="306.3" y="386.7" width="22.6" height="3" fill="#1a9553"/>
<g fill="#86cfbd" fill-opacity="0.2" stroke="#86cfbd" stroke-opacity="0.75" stroke-width="0.6"><circle cx="345.1" cy="339.2" r="1.15"/><circle cx="345.6" cy="384.5" r="1.15"/><circle cx="344.7" cy="317.4" r="1.15"/><circle cx="345.1" cy="362.8" r="1.15"/><circle cx="345.8" cy="372.8" r="1.15"/><circle cx="347.1" cy="351.0" r="1.15"/><circle cx="342.5" cy="380.3" r="1.15"/><circle cx="346.2" cy="357.6" r="1.15"/><circle cx="342.8" cy="355.0" r="1.15"/><circle cx="344.5" cy="329.3" r="1.15"/><circle cx="344.5" cy="345.2" r="1.15"/><circle cx="344.0" cy="352.3" r="1.15"/><circle cx="345.3" cy="367.7" r="1.15"/><circle cx="344.6" cy="323.9" r="1.15"/><circle cx="347.2" cy="341.4" r="1.15"/><circle cx="349.0" cy="355.8" r="1.15"/><circle cx="341.9" cy="348.1" r="1.15"/><circle cx="344.7" cy="320.7" r="1.15"/><circle cx="345.9" cy="347.3" r="1.15"/><circle cx="342.6" cy="376.0" r="1.15"/><circle cx="343.4" cy="343.4" r="1.15"/><circle cx="340.8" cy="362.0" r="1.15"/><circle cx="344.2" cy="336.5" r="1.15"/><circle cx="340.2" cy="352.1" r="1.15"/><circle cx="344.5" cy="332.3" r="1.15"/><circle cx="346.1" cy="377.1" r="1.15"/><circle cx="345.7" cy="375.1" r="1.15"/><circle cx="347.9" cy="363.4" r="1.15"/><circle cx="345.2" cy="386.7" r="1.15"/><circle cx="344.6" cy="360.8" r="1.15"/><circle cx="345.5" cy="354.9" r="1.15"/><circle cx="349.4" cy="352.0" r="1.15"/><circle cx="345.4" cy="380.3" r="1.15"/><circle cx="348.5" cy="358.2" r="1.15"/><circle cx="343.0" cy="367.6" r="1.15"/><circle cx="345.1" cy="341.9" r="1.15"/><circle cx="346.5" cy="343.2" r="1.15"/><circle cx="343.6" cy="373.7" r="1.15"/><circle cx="341.7" cy="357.3" r="1.15"/><circle cx="343.4" cy="364.0" r="1.15"/><circle cx="348.7" cy="360.0" r="1.15"/><circle cx="344.2" cy="350.5" r="1.15"/><circle cx="345.9" cy="365.6" r="1.15"/><circle cx="340.3" cy="358.9" r="1.15"/><circle cx="348.4" cy="361.9" r="1.15"/><circle cx="342.0" cy="351.9" r="1.15"/><circle cx="343.1" cy="370.5" r="1.15"/><circle cx="348.7" cy="348.3" r="1.15"/><circle cx="343.5" cy="340.9" r="1.15"/><circle cx="343.7" cy="381.6" r="1.15"/><circle cx="341.9" cy="345.2" r="1.15"/><circle cx="347.6" cy="344.6" r="1.15"/><circle cx="347.0" cy="379.6" r="1.15"/><circle cx="343.0" cy="359.2" r="1.15"/><circle cx="343.5" cy="348.8" r="1.15"/><circle cx="346.6" cy="383.1" r="1.15"/><circle cx="345.7" cy="352.1" r="1.15"/><circle cx="344.0" cy="379.2" r="1.15"/><circle cx="344.9" cy="369.2" r="1.15"/><circle cx="344.3" cy="322.1" r="1.15"/><circle cx="342.7" cy="361.4" r="1.15"/><circle cx="346.9" cy="362.5" r="1.15"/><circle cx="344.9" cy="383.0" r="1.15"/><circle cx="343.4" cy="385.2" r="1.15"/><circle cx="347.8" cy="355.1" r="1.15"/><circle cx="345.4" cy="316.0" r="1.15"/><circle cx="344.9" cy="348.5" r="1.15"/><circle cx="341.6" cy="363.5" r="1.15"/><circle cx="341.3" cy="354.4" r="1.15"/><circle cx="342.8" cy="352.8" r="1.15"/></g>
<rect x="334.1" y="387.3" width="21.4" height="2.2" fill="#7cc6b3"/>
<g fill="#a8d8cc" fill-opacity="1"><circle cx="344.8" cy="300.8" r="1.15"/></g>
<g stroke="#8ccfbf" stroke-width="0.9" fill="none"><line x1="344.8" y1="316" x2="344.8" y2="353.2"/><line x1="344.8" y1="388" x2="344.8" y2="388"/><rect x="334.3" y="353.2" width="21.0" height="34.80000000000001"/><line x1="334.3" y1="369.5" x2="355.3" y2="369.5" stroke="#62b5a3" stroke-width="1.9"/></g>
<g fill="#f07a7e" fill-opacity="0.3" stroke="#f07a7e" stroke-opacity="0.85" stroke-width="0.6"><circle cx="373.3" cy="361.1" r="1.15"/><circle cx="369.7" cy="373.6" r="1.15"/><circle cx="372.4" cy="341.0" r="1.15"/><circle cx="378.4" cy="368.0" r="1.15"/><circle cx="377.7" cy="354.1" r="1.15"/><circle cx="365.5" cy="357.4" r="1.15"/><circle cx="371.5" cy="352.6" r="1.15"/><circle cx="367.4" cy="362.3" r="1.15"/><circle cx="375.4" cy="370.8" r="1.15"/><circle cx="365.3" cy="368.0" r="1.15"/><circle cx="374.7" cy="364.6" r="1.15"/><circle cx="379.3" cy="359.9" r="1.15"/><circle cx="372.3" cy="344.8" r="1.15"/><circle cx="371.3" cy="357.4" r="1.15"/><circle cx="368.6" cy="371.2" r="1.15"/><circle cx="364.5" cy="371.7" r="1.15"/><circle cx="372.0" cy="382.1" r="1.15"/><circle cx="376.4" cy="357.6" r="1.15"/><circle cx="377.6" cy="372.4" r="1.15"/><circle cx="371.4" cy="363.8" r="1.15"/><circle cx="369.0" cy="359.0" r="1.15"/><circle cx="374.3" cy="355.4" r="1.15"/><circle cx="364.1" cy="362.9" r="1.15"/><circle cx="362.9" cy="360.1" r="1.15"/><circle cx="374.0" cy="349.0" r="1.15"/><circle cx="372.5" cy="372.0" r="1.15"/><circle cx="380.7" cy="357.8" r="1.15"/><circle cx="367.5" cy="353.8" r="1.15"/><circle cx="368.6" cy="368.1" r="1.15"/><circle cx="370.9" cy="366.8" r="1.15"/><circle cx="370.0" cy="345.1" r="1.15"/><circle cx="371.4" cy="347.7" r="1.15"/><circle cx="370.3" cy="377.1" r="1.15"/><circle cx="374.9" cy="352.4" r="1.15"/><circle cx="373.8" cy="367.9" r="1.15"/><circle cx="376.3" cy="355.7" r="1.15"/><circle cx="380.3" cy="362.4" r="1.15"/><circle cx="375.9" cy="366.5" r="1.15"/><circle cx="369.7" cy="351.0" r="1.15"/><circle cx="366.8" cy="365.0" r="1.15"/><circle cx="373.2" cy="347.0" r="1.15"/><circle cx="376.9" cy="360.4" r="1.15"/><circle cx="371.8" cy="385.0" r="1.15"/><circle cx="378.7" cy="370.5" r="1.15"/><circle cx="380.2" cy="364.4" r="1.15"/><circle cx="372.2" cy="338.0" r="1.15"/><circle cx="363.5" cy="367.1" r="1.15"/><circle cx="363.0" cy="357.5" r="1.15"/><circle cx="365.9" cy="360.1" r="1.15"/><circle cx="372.7" cy="379.1" r="1.15"/><circle cx="370.8" cy="355.2" r="1.15"/><circle cx="381.0" cy="369.8" r="1.15"/><circle cx="380.1" cy="368.3" r="1.15"/><circle cx="373.6" cy="358.2" r="1.15"/><circle cx="371.7" cy="375.5" r="1.15"/><circle cx="375.4" cy="372.6" r="1.15"/><circle cx="375.6" cy="368.9" r="1.15"/><circle cx="366.1" cy="371.4" r="1.15"/><circle cx="372.9" cy="354.3" r="1.15"/><circle cx="366.9" cy="368.7" r="1.15"/><circle cx="371.4" cy="343.5" r="1.15"/><circle cx="370.4" cy="362.3" r="1.15"/><circle cx="369.0" cy="355.0" r="1.15"/><circle cx="377.7" cy="366.7" r="1.15"/><circle cx="371.1" cy="359.9" r="1.15"/></g>
<rect x="362.2" y="387.3" width="19.6" height="2.1" fill="#ef6d75"/>
<g fill="#f4a0a0" fill-opacity="1"><circle cx="372.0" cy="311.8" r="1.15"/></g>
<g stroke="#ea7b84" stroke-width="1.05" fill="none"><line x1="372" y1="338" x2="372" y2="357.8"/><line x1="372" y1="372.3" x2="372" y2="388"/><rect x="361.5" y="357.8" width="21.0" height="14.5"/><line x1="361.5" y1="366" x2="382.5" y2="366" stroke="#df4a55" stroke-width="1.9"/></g>
<path d="M308.15,261.9 L309.5,259.1 L310.85,261.9Z" fill="#9dbfb2" fill-opacity="0.75"/>
<path d="M310.95,261.9 L312.3,259.1 L313.65000000000003,261.9Z" fill="#9dbfb2" fill-opacity="0.75"/>
<path d="M316.75,261.9 L318.1,259.1 L319.45000000000005,261.9Z" fill="#9dbfb2" fill-opacity="0.75"/>
<path d="M319.54999999999995,261.9 L320.9,259.1 L322.25,261.9Z" fill="#9dbfb2" fill-opacity="0.75"/>
<path d="M321.84999999999997,261.9 L323.2,259.1 L324.55,261.9Z" fill="#9dbfb2" fill-opacity="0.75"/>
<rect x="427" y="236.6" width="86" height="11.200000000000017" fill="#d9d9d9"/>
<text x="470.00" y="244.60" font-size="9.6" text-anchor="middle" fill="#333333" font-weight="normal" stroke="#333333" stroke-width="0.1" textLength="22.3" lengthAdjust="spacingAndGlyphs">SBS9</text>
<line x1="426.60" y1="247.80" x2="426.60" y2="395.45" stroke="#262626" stroke-width="1.3"/>
<line x1="425.95" y1="394.80" x2="513.00" y2="394.80" stroke="#262626" stroke-width="1.3"/>
<line x1="423.60" y1="257.50" x2="426.60" y2="257.50" stroke="#2f2f2f" stroke-width="1"/>
<text transform="translate(420.70,259.95) scale(0.89,1)" font-size="8.8" text-anchor="end" fill="#333333" font-weight="normal" stroke="#333333" stroke-width="0.1" >20000</text>
<line x1="423.60" y1="290.25" x2="426.60" y2="290.25" stroke="#2f2f2f" stroke-width="1"/>
<text transform="translate(420.70,292.70) scale(0.89,1)" font-size="8.8" text-anchor="end" fill="#333333" font-weight="normal" stroke="#333333" stroke-width="0.1" >15000</text>
<line x1="423.60" y1="323.00" x2="426.60" y2="323.00" stroke="#2f2f2f" stroke-width="1"/>
<text transform="translate(420.70,325.45) scale(0.89,1)" font-size="8.8" text-anchor="end" fill="#333333" font-weight="normal" stroke="#333333" stroke-width="0.1" >10000</text>
<line x1="423.60" y1="355.75" x2="426.60" y2="355.75" stroke="#2f2f2f" stroke-width="1"/>
<text transform="translate(420.70,358.20) scale(0.89,1)" font-size="8.8" text-anchor="end" fill="#333333" font-weight="normal" stroke="#333333" stroke-width="0.1" >5000</text>
<line x1="423.60" y1="388.50" x2="426.60" y2="388.50" stroke="#2f2f2f" stroke-width="1"/>
<text transform="translate(420.70,390.95) scale(0.89,1)" font-size="8.8" text-anchor="end" fill="#333333" font-weight="normal" stroke="#333333" stroke-width="0.1" >0</text>
<line x1="443.10" y1="394.80" x2="443.10" y2="397.80" stroke="#2f2f2f" stroke-width="1"/>
<text transform="translate(443.10,408.40) scale(0.92,1)" font-size="8.6" text-anchor="middle" fill="#333333" font-weight="normal" stroke="#333333" stroke-width="0.1" >DLBCL</text>
<line x1="470.00" y1="394.80" x2="470.00" y2="397.80" stroke="#2f2f2f" stroke-width="1"/>
<text transform="translate(470.00,408.40) scale(0.92,1)" font-size="8.6" text-anchor="middle" fill="#333333" font-weight="normal" stroke="#333333" stroke-width="0.1" >dFL</text>
<line x1="496.90" y1="394.80" x2="496.90" y2="397.80" stroke="#2f2f2f" stroke-width="1"/>
<text transform="translate(496.90,408.40) scale(0.92,1)" font-size="8.6" text-anchor="middle" fill="#333333" font-weight="normal" stroke="#333333" stroke-width="0.1" >cFL</text>
<g fill="#2aa664" fill-opacity="0.6" stroke="#2aa664" stroke-opacity="1" stroke-width="0.6"><circle cx="442.3" cy="309.9" r="1.15"/><circle cx="442.5" cy="335.8" r="1.15"/><circle cx="442.0" cy="323.2" r="1.15"/><circle cx="442.0" cy="315.6" r="1.15"/><circle cx="442.2" cy="329.2" r="1.15"/><circle cx="443.3" cy="320.1" r="1.15"/><circle cx="442.0" cy="336.9" r="1.15"/><circle cx="443.3" cy="307.0" r="1.15"/><circle cx="443.8" cy="325.4" r="1.15"/><circle cx="443.2" cy="331.3" r="1.15"/><circle cx="441.9" cy="321.3" r="1.15"/><circle cx="443.8" cy="313.4" r="1.15"/><circle cx="443.8" cy="317.5" r="1.15"/><circle cx="441.9" cy="318.4" r="1.15"/><circle cx="442.2" cy="305.7" r="1.15"/><circle cx="443.5" cy="311.1" r="1.15"/><circle cx="441.8" cy="334.1" r="1.15"/><circle cx="443.0" cy="333.4" r="1.15"/><circle cx="443.2" cy="308.7" r="1.15"/><circle cx="443.2" cy="315.2" r="1.15"/><circle cx="442.6" cy="312.8" r="1.15"/><circle cx="441.9" cy="320.2" r="1.15"/></g>
<polygon points="441.30,337.00 440.70,345.00 439.80,350.00 438.60,358.00 437.10,362.00 434.60,368.00 433.60,375.00 435.60,379.00 438.10,383.00 440.10,385.00 442.10,386.00 443.50,386.00 445.50,385.00 447.50,383.00 450.00,379.00 452.00,375.00 451.00,368.00 448.50,362.00 447.00,358.00 445.80,350.00 444.90,345.00 444.30,337.00" fill="#6cc89a" fill-opacity="0.3"/>
<g fill="#2aa664" fill-opacity="0.3" stroke="#2aa664" stroke-opacity="0.9" stroke-width="0.6"><circle cx="445.4" cy="382.2" r="1.15"/><circle cx="444.9" cy="353.8" r="1.15"/><circle cx="450.8" cy="371.9" r="1.15"/><circle cx="439.6" cy="360.5" r="1.15"/><circle cx="438.0" cy="379.5" r="1.15"/><circle cx="447.2" cy="361.7" r="1.15"/><circle cx="443.2" cy="343.6" r="1.15"/><circle cx="444.3" cy="373.4" r="1.15"/><circle cx="438.2" cy="370.0" r="1.15"/><circle cx="447.7" cy="367.5" r="1.15"/><circle cx="437.5" cy="375.4" r="1.15"/><circle cx="440.6" cy="384.0" r="1.15"/><circle cx="443.1" cy="378.7" r="1.15"/><circle cx="437.5" cy="364.7" r="1.15"/><circle cx="440.7" cy="372.0" r="1.15"/><circle cx="448.4" cy="373.7" r="1.15"/><circle cx="441.1" cy="350.2" r="1.15"/><circle cx="435.2" cy="367.5" r="1.15"/><circle cx="441.3" cy="364.7" r="1.15"/><circle cx="444.0" cy="350.0" r="1.15"/><circle cx="448.1" cy="379.8" r="1.15"/><circle cx="440.4" cy="357.3" r="1.15"/><circle cx="442.6" cy="368.2" r="1.15"/><circle cx="445.3" cy="359.6" r="1.15"/><circle cx="443.3" cy="346.1" r="1.15"/><circle cx="435.0" cy="371.4" r="1.15"/><circle cx="441.4" cy="376.0" r="1.15"/><circle cx="434.6" cy="374.5" r="1.15"/><circle cx="443.5" cy="340.5" r="1.15"/><circle cx="446.1" cy="369.7" r="1.15"/><circle cx="447.3" cy="378.0" r="1.15"/><circle cx="442.6" cy="337.0" r="1.15"/><circle cx="443.3" cy="385.2" r="1.15"/><circle cx="443.8" cy="363.5" r="1.15"/><circle cx="447.7" cy="370.3" r="1.15"/><circle cx="442.0" cy="359.5" r="1.15"/><circle cx="449.4" cy="365.1" r="1.15"/><circle cx="446.4" cy="357.3" r="1.15"/><circle cx="440.9" cy="347.0" r="1.15"/><circle cx="440.6" cy="378.1" r="1.15"/><circle cx="439.7" cy="354.8" r="1.15"/><circle cx="443.6" cy="356.8" r="1.15"/><circle cx="445.7" cy="365.2" r="1.15"/><circle cx="439.9" cy="380.8" r="1.15"/><circle cx="444.4" cy="348.3" r="1.15"/><circle cx="437.7" cy="372.0" r="1.15"/><circle cx="441.6" cy="382.3" r="1.15"/><circle cx="446.0" cy="371.7" r="1.15"/><circle cx="439.8" cy="374.9" r="1.15"/><circle cx="443.7" cy="371.7" r="1.15"/><circle cx="450.6" cy="376.6" r="1.15"/><circle cx="445.4" cy="378.5" r="1.15"/><circle cx="441.8" cy="338.9" r="1.15"/><circle cx="448.2" cy="376.1" r="1.15"/><circle cx="441.4" cy="341.8" r="1.15"/><circle cx="447.5" cy="363.8" r="1.15"/><circle cx="437.3" cy="367.8" r="1.15"/><circle cx="444.1" cy="369.7" r="1.15"/><circle cx="441.2" cy="373.9" r="1.15"/><circle cx="442.1" cy="353.0" r="1.15"/><circle cx="444.1" cy="342.6" r="1.15"/><circle cx="435.3" cy="369.8" r="1.15"/><circle cx="445.8" cy="376.9" r="1.15"/><circle cx="441.0" cy="362.8" r="1.15"/><circle cx="440.6" cy="370.2" r="1.15"/><circle cx="448.8" cy="371.1" r="1.15"/><circle cx="445.8" cy="374.3" r="1.15"/><circle cx="440.9" cy="368.1" r="1.15"/><circle cx="445.3" cy="357.9" r="1.15"/><circle cx="445.1" cy="380.3" r="1.15"/><circle cx="446.4" cy="380.2" r="1.15"/><circle cx="438.5" cy="362.9" r="1.15"/><circle cx="440.0" cy="365.5" r="1.15"/><circle cx="444.3" cy="360.7" r="1.15"/><circle cx="441.5" cy="361.0" r="1.15"/><circle cx="438.6" cy="377.0" r="1.15"/><circle cx="444.9" cy="351.4" r="1.15"/><circle cx="443.2" cy="348.4" r="1.15"/><circle cx="442.9" cy="380.0" r="1.15"/><circle cx="438.6" cy="371.9" r="1.15"/><circle cx="439.2" cy="362.0" r="1.15"/><circle cx="449.6" cy="369.2" r="1.15"/><circle cx="438.7" cy="359.5" r="1.15"/><circle cx="443.8" cy="354.2" r="1.15"/><circle cx="435.5" cy="377.4" r="1.15"/><circle cx="443.1" cy="339.0" r="1.15"/><circle cx="447.8" cy="372.0" r="1.15"/><circle cx="441.8" cy="384.8" r="1.15"/><circle cx="439.8" cy="379.6" r="1.15"/><circle cx="444.4" cy="375.9" r="1.15"/><circle cx="444.2" cy="384.4" r="1.15"/><circle cx="451.0" cy="373.8" r="1.15"/><circle cx="442.2" cy="346.5" r="1.15"/><circle cx="441.6" cy="344.0" r="1.15"/><circle cx="440.7" cy="366.9" r="1.15"/><circle cx="449.4" cy="378.3" r="1.15"/><circle cx="448.3" cy="369.3" r="1.15"/><circle cx="445.7" cy="367.7" r="1.15"/><circle cx="443.8" cy="366.7" r="1.15"/><circle cx="439.5" cy="373.5" r="1.15"/><circle cx="436.4" cy="369.0" r="1.15"/><circle cx="442.2" cy="370.9" r="1.15"/><circle cx="439.6" cy="369.6" r="1.15"/><circle cx="436.2" cy="366.1" r="1.15"/><circle cx="443.2" cy="368.9" r="1.15"/><circle cx="450.2" cy="367.3" r="1.15"/><circle cx="440.8" cy="352.2" r="1.15"/><circle cx="447.1" cy="365.8" r="1.15"/><circle cx="445.0" cy="366.5" r="1.15"/><circle cx="447.1" cy="374.1" r="1.15"/><circle cx="444.1" cy="382.8" r="1.15"/><circle cx="442.3" cy="355.5" r="1.15"/><circle cx="442.4" cy="381.1" r="1.15"/><circle cx="446.7" cy="375.8" r="1.15"/><circle cx="437.1" cy="370.3" r="1.15"/><circle cx="436.8" cy="372.2" r="1.15"/><circle cx="441.7" cy="358.0" r="1.15"/><circle cx="438.4" cy="364.5" r="1.15"/><circle cx="446.2" cy="365.8" r="1.15"/><circle cx="447.0" cy="360.1" r="1.15"/><circle cx="436.0" cy="375.1" r="1.15"/><circle cx="448.3" cy="378.7" r="1.15"/><circle cx="445.9" cy="370.7" r="1.15"/><circle cx="442.8" cy="342.0" r="1.15"/><circle cx="437.8" cy="373.3" r="1.15"/><circle cx="450.4" cy="368.5" r="1.15"/><circle cx="441.7" cy="354.5" r="1.15"/><circle cx="449.5" cy="374.7" r="1.15"/><circle cx="438.6" cy="382.7" r="1.15"/><circle cx="445.1" cy="371.5" r="1.15"/><circle cx="443.1" cy="358.6" r="1.15"/><circle cx="437.8" cy="363.9" r="1.15"/><circle cx="438.6" cy="367.5" r="1.15"/><circle cx="443.8" cy="377.5" r="1.15"/><circle cx="445.1" cy="363.7" r="1.15"/><circle cx="434.8" cy="375.7" r="1.15"/><circle cx="449.2" cy="375.6" r="1.15"/><circle cx="437.2" cy="380.4" r="1.15"/><circle cx="439.0" cy="365.6" r="1.15"/><circle cx="444.3" cy="344.1" r="1.15"/><circle cx="436.6" cy="375.7" r="1.15"/><circle cx="444.6" cy="364.6" r="1.15"/><circle cx="444.5" cy="381.7" r="1.15"/><circle cx="437.4" cy="377.6" r="1.15"/><circle cx="439.3" cy="370.9" r="1.15"/><circle cx="440.5" cy="359.6" r="1.15"/><circle cx="445.2" cy="383.2" r="1.15"/><circle cx="444.7" cy="346.2" r="1.15"/><circle cx="447.0" cy="382.0" r="1.15"/><circle cx="447.2" cy="369.0" r="1.15"/><circle cx="442.8" cy="374.7" r="1.15"/><circle cx="444.4" cy="367.4" r="1.15"/><circle cx="446.5" cy="362.7" r="1.15"/><circle cx="436.3" cy="377.1" r="1.15"/><circle cx="441.6" cy="348.0" r="1.15"/><circle cx="441.4" cy="356.4" r="1.15"/><circle cx="446.1" cy="366.7" r="1.15"/><circle cx="435.6" cy="372.3" r="1.15"/><circle cx="440.0" cy="353.7" r="1.15"/><circle cx="442.1" cy="356.8" r="1.15"/></g>
<g stroke="#16803f" stroke-width="1.05" fill="none"><line x1="442.8" y1="305" x2="442.8" y2="358.7"/><line x1="442.8" y1="387.5" x2="442.8" y2="387.5"/><rect x="432.3" y="358.7" width="21.0" height="28.80000000000001"/><line x1="432.3" y1="372.6" x2="453.3" y2="372.6" stroke="#137a3d" stroke-width="1.9"/></g>
<rect x="432.0" y="386.7" width="21.6" height="3" fill="#1a9553"/>
<g fill="#86cfbd" fill-opacity="0.8"><circle cx="470.1" cy="347.0" r="1.15"/><circle cx="470.1" cy="351.0" r="1.15"/><circle cx="470.1" cy="354.0" r="1.15"/><circle cx="470.1" cy="357.5" r="1.15"/></g>
<polygon points="468.40,355.00 467.40,362.00 464.40,365.00 460.40,369.00 460.40,381.00 464.40,383.00 465.40,389.00 474.80,389.00 475.80,383.00 479.80,381.00 479.80,369.00 475.80,365.00 472.80,362.00 471.80,355.00" fill="#b4e2d6" fill-opacity="0.15"/>
<g fill="#86cfbd" fill-opacity="0.3" stroke="#86cfbd" stroke-opacity="0.9" stroke-width="0.6"><circle cx="469.0" cy="380.4" r="1.15"/><circle cx="474.7" cy="364.6" r="1.15"/><circle cx="473.7" cy="387.5" r="1.15"/><circle cx="461.6" cy="373.8" r="1.15"/><circle cx="476.3" cy="373.1" r="1.15"/><circle cx="465.0" cy="366.3" r="1.15"/><circle cx="469.9" cy="359.4" r="1.15"/><circle cx="464.2" cy="381.3" r="1.15"/><circle cx="467.9" cy="373.3" r="1.15"/><circle cx="474.1" cy="380.5" r="1.15"/><circle cx="471.6" cy="370.3" r="1.15"/><circle cx="469.4" cy="364.1" r="1.15"/><circle cx="469.9" cy="386.9" r="1.15"/><circle cx="472.0" cy="365.2" r="1.15"/><circle cx="461.8" cy="368.7" r="1.15"/><circle cx="478.2" cy="369.2" r="1.15"/><circle cx="467.6" cy="385.9" r="1.15"/><circle cx="478.9" cy="380.5" r="1.15"/><circle cx="475.1" cy="368.0" r="1.15"/><circle cx="462.8" cy="377.4" r="1.15"/><circle cx="469.0" cy="366.3" r="1.15"/><circle cx="476.9" cy="376.8" r="1.15"/><circle cx="463.5" cy="370.4" r="1.15"/><circle cx="470.5" cy="361.9" r="1.15"/><circle cx="468.5" cy="376.0" r="1.15"/><circle cx="476.0" cy="382.0" r="1.15"/><circle cx="467.7" cy="368.7" r="1.15"/><circle cx="472.2" cy="382.2" r="1.15"/><circle cx="466.2" cy="377.3" r="1.15"/><circle cx="476.1" cy="366.2" r="1.15"/><circle cx="472.0" cy="374.3" r="1.15"/><circle cx="466.6" cy="371.6" r="1.15"/><circle cx="479.2" cy="371.8" r="1.15"/><circle cx="473.6" cy="376.4" r="1.15"/><circle cx="476.4" cy="369.8" r="1.15"/><circle cx="473.8" cy="366.4" r="1.15"/><circle cx="468.8" cy="355.9" r="1.15"/><circle cx="474.0" cy="369.6" r="1.15"/><circle cx="467.1" cy="364.4" r="1.15"/><circle cx="478.3" cy="377.7" r="1.15"/><circle cx="464.8" cy="372.5" r="1.15"/><circle cx="472.9" cy="378.8" r="1.15"/><circle cx="471.0" cy="380.7" r="1.15"/><circle cx="472.6" cy="363.4" r="1.15"/><circle cx="471.2" cy="357.3" r="1.15"/><circle cx="463.8" cy="375.0" r="1.15"/><circle cx="462.3" cy="372.2" r="1.15"/><circle cx="468.9" cy="361.0" r="1.15"/><circle cx="461.9" cy="380.1" r="1.15"/><circle cx="471.4" cy="385.0" r="1.15"/><circle cx="471.2" cy="388.1" r="1.15"/><circle cx="465.7" cy="382.8" r="1.15"/><circle cx="467.2" cy="379.9" r="1.15"/><circle cx="473.3" cy="385.3" r="1.15"/><circle cx="476.9" cy="380.4" r="1.15"/><circle cx="468.1" cy="382.3" r="1.15"/><circle cx="463.5" cy="367.7" r="1.15"/><circle cx="468.1" cy="363.1" r="1.15"/><circle cx="471.8" cy="379.7" r="1.15"/><circle cx="469.7" cy="373.2" r="1.15"/><circle cx="462.7" cy="375.8" r="1.15"/><circle cx="472.0" cy="360.0" r="1.15"/><circle cx="469.9" cy="374.7" r="1.15"/><circle cx="468.8" cy="370.9" r="1.15"/><circle cx="465.2" cy="385.0" r="1.15"/><circle cx="471.1" cy="355.7" r="1.15"/><circle cx="468.9" cy="388.2" r="1.15"/><circle cx="468.9" cy="357.9" r="1.15"/><circle cx="479.3" cy="374.6" r="1.15"/><circle cx="462.7" cy="381.8" r="1.15"/><circle cx="473.4" cy="372.3" r="1.15"/><circle cx="465.5" cy="367.4" r="1.15"/><circle cx="469.6" cy="368.3" r="1.15"/><circle cx="473.6" cy="382.7" r="1.15"/><circle cx="471.6" cy="376.8" r="1.15"/><circle cx="465.6" cy="373.8" r="1.15"/><circle cx="475.0" cy="384.3" r="1.15"/><circle cx="473.6" cy="364.7" r="1.15"/><circle cx="474.9" cy="372.4" r="1.15"/><circle cx="476.6" cy="379.0" r="1.15"/><circle cx="463.8" cy="369.0" r="1.15"/><circle cx="475.0" cy="365.6" r="1.15"/><circle cx="472.9" cy="388.4" r="1.15"/><circle cx="460.8" cy="377.5" r="1.15"/><circle cx="468.1" cy="377.3" r="1.15"/></g>
<g fill="#a8d8cc" fill-opacity="1"><circle cx="470.1" cy="332.2" r="1.15"/><circle cx="470.1" cy="341.8" r="1.15"/><circle cx="470.1" cy="343.5" r="1.15"/></g>
<g stroke="#8ccfbf" stroke-width="1.05" fill="none"><line x1="470.1" y1="346" x2="470.1" y2="367"/><line x1="470.1" y1="380.6" x2="470.1" y2="389"/><rect x="459.3" y="367" width="21.6" height="13.600000000000023"/><line x1="459.3" y1="376.5" x2="480.90000000000003" y2="376.5" stroke="#62b5a3" stroke-width="1.9"/></g>
<polygon points="495.90,370.70 493.20,375.00 489.20,378.00 486.20,380.00 486.20,384.00 491.20,386.00 491.20,388.50 502.60,388.50 502.60,386.00 507.60,384.00 507.60,380.00 504.60,378.00 500.60,375.00 497.90,370.70" fill="#f7a9a9" fill-opacity="0.45"/>
<g fill="#f07a7e" fill-opacity="0.3" stroke="#f07a7e" stroke-opacity="0.9" stroke-width="0.6"><circle cx="487.5" cy="383.0" r="1.15"/><circle cx="498.1" cy="372.7" r="1.15"/><circle cx="506.0" cy="382.4" r="1.15"/><circle cx="497.0" cy="379.8" r="1.15"/><circle cx="489.3" cy="379.2" r="1.15"/><circle cx="494.5" cy="385.5" r="1.15"/><circle cx="500.9" cy="386.7" r="1.15"/><circle cx="500.2" cy="383.2" r="1.15"/><circle cx="491.1" cy="383.4" r="1.15"/><circle cx="501.1" cy="378.3" r="1.15"/><circle cx="492.8" cy="379.5" r="1.15"/><circle cx="497.0" cy="386.5" r="1.15"/><circle cx="495.1" cy="376.0" r="1.15"/><circle cx="496.5" cy="382.9" r="1.15"/><circle cx="504.4" cy="385.0" r="1.15"/><circle cx="503.0" cy="382.0" r="1.15"/><circle cx="493.2" cy="376.4" r="1.15"/><circle cx="488.7" cy="381.7" r="1.15"/><circle cx="486.7" cy="381.4" r="1.15"/><circle cx="489.2" cy="384.3" r="1.15"/><circle cx="503.5" cy="378.5" r="1.15"/><circle cx="495.5" cy="373.5" r="1.15"/><circle cx="490.8" cy="380.5" r="1.15"/><circle cx="494.1" cy="388.2" r="1.15"/><circle cx="494.6" cy="379.3" r="1.15"/><circle cx="490.5" cy="377.7" r="1.15"/><circle cx="500.0" cy="388.1" r="1.15"/><circle cx="497.7" cy="374.4" r="1.15"/><circle cx="496.7" cy="384.9" r="1.15"/><circle cx="498.8" cy="381.4" r="1.15"/><circle cx="492.6" cy="386.5" r="1.15"/><circle cx="506.0" cy="380.1" r="1.15"/><circle cx="502.4" cy="384.5" r="1.15"/><circle cx="493.1" cy="384.1" r="1.15"/><circle cx="496.6" cy="388.0" r="1.15"/><circle cx="499.2" cy="376.8" r="1.15"/><circle cx="499.6" cy="374.4" r="1.15"/><circle cx="497.0" cy="371.6" r="1.15"/><circle cx="486.8" cy="383.7" r="1.15"/><circle cx="500.0" cy="380.2" r="1.15"/><circle cx="495.7" cy="374.9" r="1.15"/><circle cx="502.6" cy="379.4" r="1.15"/><circle cx="489.8" cy="383.1" r="1.15"/><circle cx="503.6" cy="380.6" r="1.15"/><circle cx="495.6" cy="377.7" r="1.15"/><circle cx="492.4" cy="381.7" r="1.15"/><circle cx="499.5" cy="385.4" r="1.15"/><circle cx="501.1" cy="381.4" r="1.15"/><circle cx="498.4" cy="387.0" r="1.15"/><circle cx="501.0" cy="376.3" r="1.15"/><circle cx="494.3" cy="381.6" r="1.15"/><circle cx="498.0" cy="379.7" r="1.15"/><circle cx="501.2" cy="379.6" r="1.15"/><circle cx="496.9" cy="376.9" r="1.15"/><circle cx="495.8" cy="382.0" r="1.15"/><circle cx="503.7" cy="382.7" r="1.15"/><circle cx="502.9" cy="378.0" r="1.15"/><circle cx="504.4" cy="383.8" r="1.15"/><circle cx="490.3" cy="382.1" r="1.15"/><circle cx="498.8" cy="375.5" r="1.15"/><circle cx="501.5" cy="383.2" r="1.15"/><circle cx="487.5" cy="379.9" r="1.15"/><circle cx="497.9" cy="378.0" r="1.15"/><circle cx="495.5" cy="380.6" r="1.15"/><circle cx="492.0" cy="385.3" r="1.15"/><circle cx="495.3" cy="388.0" r="1.15"/><circle cx="491.8" cy="376.5" r="1.15"/><circle cx="493.4" cy="383.1" r="1.15"/><circle cx="492.1" cy="387.6" r="1.15"/><circle cx="499.3" cy="378.0" r="1.15"/><circle cx="502.2" cy="387.9" r="1.15"/><circle cx="502.2" cy="380.4" r="1.15"/><circle cx="500.5" cy="378.9" r="1.15"/><circle cx="497.6" cy="385.6" r="1.15"/><circle cx="498.8" cy="383.4" r="1.15"/><circle cx="502.1" cy="377.1" r="1.15"/><circle cx="495.9" cy="374.2" r="1.15"/><circle cx="496.6" cy="372.6" r="1.15"/><circle cx="497.4" cy="383.1" r="1.15"/><circle cx="503.6" cy="383.8" r="1.15"/><circle cx="495.4" cy="386.8" r="1.15"/><circle cx="497.7" cy="373.5" r="1.15"/><circle cx="504.5" cy="379.7" r="1.15"/><circle cx="494.7" cy="384.1" r="1.15"/><circle cx="497.4" cy="381.5" r="1.15"/><circle cx="490.9" cy="378.9" r="1.15"/><circle cx="505.0" cy="380.8" r="1.15"/><circle cx="494.5" cy="386.2" r="1.15"/><circle cx="489.9" cy="380.2" r="1.15"/><circle cx="490.2" cy="384.9" r="1.15"/></g>
<g fill="#f08a8a" fill-opacity="1"><circle cx="496.9" cy="358.7" r="1.2"/><circle cx="496.9" cy="368.0" r="1.2"/></g>
<g stroke="#ea7b84" stroke-width="1.05" fill="none"><line x1="496.9" y1="368" x2="496.9" y2="377.2"/><line x1="496.9" y1="383.1" x2="496.9" y2="388.5"/><rect x="485.9" y="377.2" width="22" height="5.900000000000034"/><line x1="485.9" y1="380" x2="507.9" y2="380" stroke="#df4a55" stroke-width="1.9"/></g>
<path d="M469.7,272.0 V268.2 H496.5 V272.0" stroke="#4a4a4a" stroke-width="1" fill="none"/>
<g fill="#333"><circle cx="477.48" cy="264.50" r="1.15"/><circle cx="481.23" cy="264.50" r="1.15"/><circle cx="484.98" cy="264.50" r="1.15"/><circle cx="488.73" cy="264.50" r="1.15"/></g>
<path d="M442.7,285.20000000000005 V281.6 H496.5 V285.20000000000005" stroke="#4a4a4a" stroke-width="1" fill="none"/>
<g fill="#333"><circle cx="463.98" cy="277.80" r="1.15"/><circle cx="467.73" cy="277.80" r="1.15"/><circle cx="471.48" cy="277.80" r="1.15"/><circle cx="475.23" cy="277.80" r="1.15"/></g>
<path d="M433.15,262.0 L434.5,259.20000000000005 L435.85,262.0Z" fill="#86bfae" fill-opacity="0.75"/>
<path d="M436.04999999999995,262.0 L437.4,259.20000000000005 L438.75,262.0Z" fill="#86bfae" fill-opacity="0.75"/>
<path d="M441.15,262.0 L442.5,259.20000000000005 L443.85,262.0Z" fill="#86bfae" fill-opacity="0.75"/>
<path d="M443.95,262.0 L445.3,259.20000000000005 L446.65000000000003,262.0Z" fill="#86bfae" fill-opacity="0.75"/>
<path d="M446.54999999999995,262.0 L447.9,259.20000000000005 L449.25,262.0Z" fill="#86bfae" fill-opacity="0.75"/>
<g fill="#8a9a92" fill-opacity="1"><circle cx="442.6" cy="265.6" r="1.15"/></g>
<g fill="#d0e4dc" fill-opacity="1"><circle cx="469.7" cy="285.2" r="1.0"/></g>
<rect x="0.5" y="0.5" width="519" height="416" fill="none" stroke="#555" stroke-width="1"/>
</svg>
</body></html>
